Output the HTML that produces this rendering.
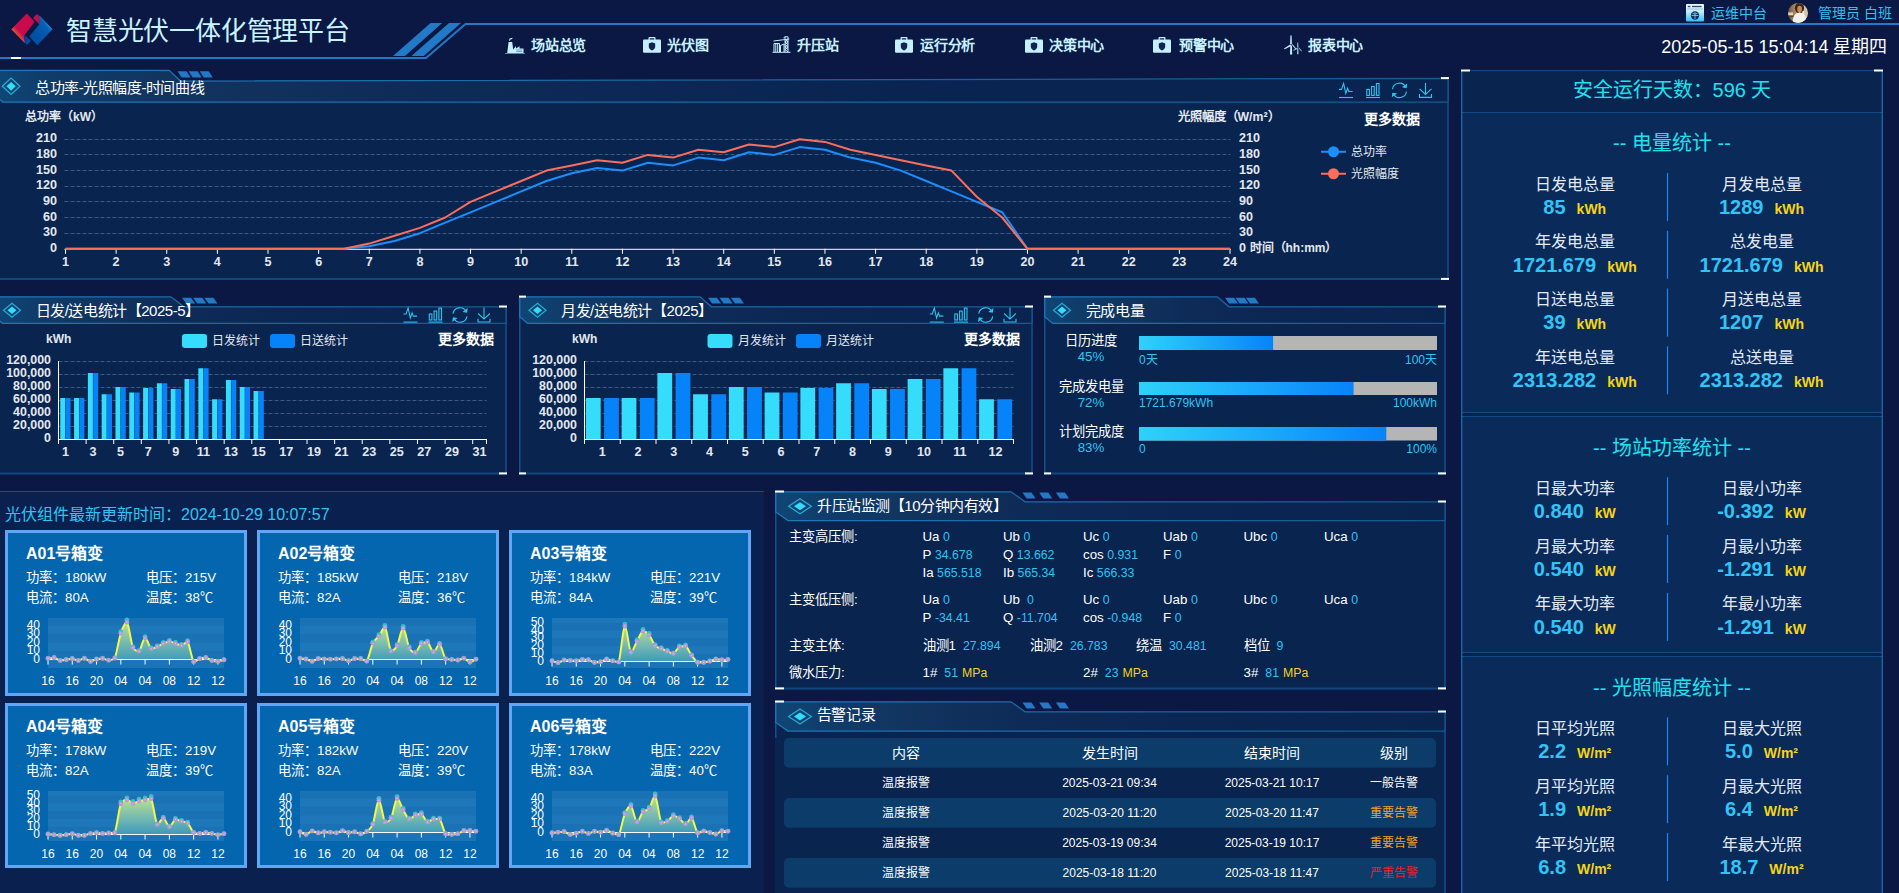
<!DOCTYPE html>
<html lang="zh-CN"><head><meta charset="utf-8"><title>智慧光伏一体化管理平台</title>
<style>
html,body{margin:0;padding:0;}
body{width:1899px;height:893px;overflow:hidden;background:#0a1843;font-family:"Liberation Sans",sans-serif;position:relative;}
#g{position:absolute;left:0;top:0;}
.t{position:absolute;white-space:nowrap;margin:0;font-weight:normal;}
</style></head><body>
<svg id="g" width="1899" height="893" viewBox="0 0 1899 893">
<polyline points="0,58 426,58 465.5,24 1899,24" fill="none" stroke="#1f78c8" stroke-width="2"/>
<polygon points="393,56 405,56 442.2,23 430.6,23" fill="#2279c5"/>
<polygon points="411.4,56 423.7,56 461,23 449,23" fill="#2279c5"/>
<rect x="11" y="57" width="10" height="2" fill="#fff"/>
<defs>
<linearGradient id="lgR" x1="0.75" y1="0.2" x2="0.2" y2="0.8"><stop offset="0" stop-color="#c90b4e"/><stop offset="0.7" stop-color="#c90b4e"/><stop offset="0.86" stop-color="#de3a3e"/><stop offset="1" stop-color="#f5852f"/></linearGradient>
<linearGradient id="lgB" x1="0.85" y1="0.15" x2="0.3" y2="0.7"><stop offset="0" stop-color="#0aa5e6"/><stop offset="0.12" stop-color="#0a8fd6"/><stop offset="0.3" stop-color="#0560b5"/><stop offset="1" stop-color="#0050a4"/></linearGradient>
<linearGradient id="lgB2" x1="0" y1="0" x2="1" y2="0.6"><stop offset="0" stop-color="#0a2f80"/><stop offset="1" stop-color="#0058b0"/></linearGradient>
<linearGradient id="lgR2" x1="0" y1="0.3" x2="1" y2="0.6"><stop offset="0" stop-color="#d40b4e"/><stop offset="1" stop-color="#9a1a50"/></linearGradient>
</defs>
<path d="M26.7,13.9 L34.1,21.8 L24.2,34.8 Q23.5,38 24.7,42.5 L11.9,29.2 Z" fill="url(#lgR)" stroke="url(#lgR)" stroke-width="1" stroke-linejoin="round"/>
<path d="M24.2,34.8 L30.9,40.8 L26.9,44.9 L24.7,42.5 Q23.5,38 24.2,34.8 Z" fill="url(#lgB2)"/>
<path d="M39.5,16.1 L52,29.2 L37.3,44.9 L29.9,36.3 L39.5,24.7 Q40.3,20 39.5,16.1 Z" fill="url(#lgB)" stroke="url(#lgB)" stroke-width="1" stroke-linejoin="round"/>
<path d="M37,13.9 L39.5,16.1 Q40.3,20 39.5,24.5 L33.1,17.9 Z" fill="url(#lgR2)"/>
<g transform="translate(505,37.5)" fill="#c4f0ff"><path d="M0,15.5 L2.2,15.5 L3.6,4.5 L7.2,4.5 L8.2,12 L11,8.5 L11,11 L14.5,8.8 L14.5,11 L18.5,11 L18.5,15.5 L20,15.5 L20,16 L0,16 Z"/><path d="M4,3 L4.6,1 L7.6,0.2 L7.2,1.6 L5,2.2 L5.2,3.4 Z"/><rect x="11.3" y="12" width="6" height="1" fill="#6a9fc0"/><rect x="11.3" y="13.6" width="6" height="1" fill="#6a9fc0"/></g>
<g transform="translate(643,37)"><path d="M5.5,3 L5.5,0.9 Q5.5,0 6.4,0 L11.6,0 Q12.5,0 12.5,0.9 L12.5,3 L11.2,3 L11.2,1.3 L6.8,1.3 L6.8,3 Z" fill="#c4f0ff"/><rect x="0" y="2.6" width="18" height="13.2" rx="1.2" fill="#c4f0ff"/><path d="M9,5.2 L12.2,6.4 L12.2,9.4 Q12.2,12 9,13.4 Q5.8,12 5.8,9.4 L5.8,6.4 Z" fill="#14244f"/></g>
<g transform="translate(772.5,36)" fill="none" stroke="#c4f0ff" stroke-width="1"><path d="M0,16.3 L18,16.3"/><path d="M1.5,16 L1.5,7.5 L7,7.5 L7,16 M3.3,8 L3.3,16 M5.2,8 L5.2,16"/><path d="M8,16 L8,9.5 L11.5,8 L11.5,16"/><path d="M12.5,16 L12.5,0.8 L15.5,0.8 L15.5,16 M12.5,3.5 L15.5,6 L12.5,8.5 L15.5,11 L12.5,13.5 L15.5,16 M15.5,3.5 L12.5,6 L15.5,8.5 L12.5,11 L15.5,13.5"/><path d="M1,5 L16.8,3 M12.5,0.8 L11,1.8"/></g>
<g transform="translate(895,37)"><path d="M5.5,3 L5.5,0.9 Q5.5,0 6.4,0 L11.6,0 Q12.5,0 12.5,0.9 L12.5,3 L11.2,3 L11.2,1.3 L6.8,1.3 L6.8,3 Z" fill="#c4f0ff"/><rect x="0" y="2.6" width="18" height="13.2" rx="1.2" fill="#c4f0ff"/><path d="M9,5.2 L12.2,6.4 L12.2,9.4 Q12.2,12 9,13.4 Q5.8,12 5.8,9.4 L5.8,6.4 Z" fill="#14244f"/></g>
<g transform="translate(1025,37)"><path d="M5.5,3 L5.5,0.9 Q5.5,0 6.4,0 L11.6,0 Q12.5,0 12.5,0.9 L12.5,3 L11.2,3 L11.2,1.3 L6.8,1.3 L6.8,3 Z" fill="#c4f0ff"/><rect x="0" y="2.6" width="18" height="13.2" rx="1.2" fill="#c4f0ff"/><path d="M9,5.2 L12.2,6.4 L12.2,9.4 Q12.2,12 9,13.4 Q5.8,12 5.8,9.4 L5.8,6.4 Z" fill="#14244f"/></g>
<g transform="translate(1153,37)"><path d="M5.5,3 L5.5,0.9 Q5.5,0 6.4,0 L11.6,0 Q12.5,0 12.5,0.9 L12.5,3 L11.2,3 L11.2,1.3 L6.8,1.3 L6.8,3 Z" fill="#c4f0ff"/><rect x="0" y="2.6" width="18" height="13.2" rx="1.2" fill="#c4f0ff"/><path d="M9,5.2 L12.2,6.4 L12.2,9.4 Q12.2,12 9,13.4 Q5.8,12 5.8,9.4 L5.8,6.4 Z" fill="#14244f"/></g>
<g transform="translate(1284,35.6)" fill="#c4f0ff"><path d="M6.4,0 L7.6,0 L7.9,8.6 L6.1,8.6 Z"/><path d="M6.2,9 L7.2,10.4 L0.6,13.6 L0,12.8 Z" /><path d="M7.6,9.2 L8.6,8.6 L12.2,13 L11.4,13.6 Z" opacity="0.85"/><path d="M6.3,10 L7.9,10 L8.2,19 L6,19 Z"/><g opacity="0.8"><path d="M13.3,7 L14.2,7 L14.4,12 L13.1,12 Z"/><path d="M13.2,12.2 L13.9,13.2 L9.6,15.2 L9.2,14.5 Z"/><path d="M14.2,12.2 L15,11.8 L18,15.3 L17.3,15.9 Z"/><path d="M13.2,13 L14.3,13 L14.6,18.6 L13,18.6 Z"/></g></g>
<defs><linearGradient id="gW" x1="0" y1="0" x2="0" y2="1"><stop offset="0" stop-color="#f2fbff"/><stop offset="0.45" stop-color="#bfeafc"/><stop offset="1" stop-color="#2fc2f5"/></linearGradient><radialGradient id="gA" cx="0.55" cy="0.6" r="0.6"><stop offset="0" stop-color="#fbf4ea"/><stop offset="0.5" stop-color="#e8d8c4"/><stop offset="1" stop-color="#7a5238"/></radialGradient></defs>
<g transform="translate(1686,4)"><rect width="18" height="17.6" rx="1" fill="url(#gW)"/><rect x="1.8" y="1.8" width="2.6" height="1.4" fill="#33507a"/><rect x="6" y="1.8" width="9.6" height="1.4" fill="#33507a"/><rect x="1" y="4.6" width="16" height="0.8" fill="#8fb5d6"/><circle cx="9" cy="11.5" r="4.2" fill="#14305e"/><path d="M5.5,11.5 L12.5,11.5 M9,8 L9,15 M6.5,9.3 Q9,11 11.5,9.3" stroke="#7fd0f5" stroke-width="0.8" fill="none"/></g>
<defs><clipPath id="av"><circle cx="1798" cy="13" r="10"/></clipPath><linearGradient id="avb" x1="0" y1="0" x2="1" y2="0"><stop offset="0" stop-color="#6f5638"/><stop offset="0.3" stop-color="#9c8260"/><stop offset="0.75" stop-color="#cdbb9f"/><stop offset="1" stop-color="#d9ccb6"/></linearGradient></defs><g clip-path="url(#av)"><rect x="1788" y="3" width="20" height="20" fill="url(#avb)"/><rect x="1788" y="12.5" width="5" height="3" fill="#f4efe6" opacity="0.8"/><rect x="1788" y="15.5" width="6" height="1.6" fill="#4a3a28" opacity="0.8"/><ellipse cx="1799.5" cy="8" rx="4.6" ry="5.4" fill="#3b2516"/><ellipse cx="1799.6" cy="9" rx="2.4" ry="3.2" fill="#c48a5c"/><rect x="1798.6" y="11.5" width="2" height="2" fill="#d9a17c"/><path d="M1792.5,24 Q1792.5,14.5 1797,13 L1803,13 Q1806.5,15 1806,24 Z" fill="#f5f0e6"/><rect x="1802.5" y="11" width="1.6" height="2.5" fill="#f8f6f0"/></g>
<defs><linearGradient id="tb1" gradientUnits="userSpaceOnUse" x1="0" y1="0" x2="900" y2="0"><stop offset="0" stop-color="#0f4676"/><stop offset="0.05" stop-color="#103c6a"/><stop offset="0.18" stop-color="#123560"/><stop offset="0.3" stop-color="#11305b"/><stop offset="0.5" stop-color="#0e2a57"/><stop offset="1" stop-color="#0a2452"/></linearGradient><linearGradient id="tb" x1="0" y1="0" x2="1" y2="0"><stop offset="0" stop-color="#0f4676"/><stop offset="0.08" stop-color="#103c6a"/><stop offset="0.22" stop-color="#11335e"/><stop offset="0.38" stop-color="#0e2a57"/><stop offset="0.6" stop-color="#0b2653"/><stop offset="1" stop-color="#0a2450"/></linearGradient><linearGradient id="tbs" x1="0" y1="0" x2="1" y2="0"><stop offset="0" stop-color="#1c78bc"/><stop offset="0.3" stop-color="#196dac"/><stop offset="1" stop-color="#145890"/></linearGradient></defs>
<rect x="-6" y="80.3" width="1455" height="199.7" fill="#09244f"/>
<path d="M-5.25,69.6 L-5.25,280 " stroke="#12528c" stroke-width="1.5" fill="none"/>
<path d="M1448,80.3 L1448,280" stroke="#10437a" stroke-width="2" fill="none"/>
<path d="M-6,279 L1449,279" stroke="#104780" stroke-width="2" fill="none"/>
<polygon points="-5.25,70.35 169.2,70.35 180.5,81.05 1448,78.35 1448,102 2.6999999999999993,102 -5.25,95.3" fill="url(#tb1)" stroke="url(#tbs)" stroke-width="1.25"/>
<polygon points="177.5,71.2 186.5,71.2 190.6,77.5 181.6,77.5" fill="#2279c5"/>
<polygon points="188.6,71.2 197.6,71.2 201.7,77.5 192.7,77.5" fill="#2279c5"/>
<polygon points="199.7,71.2 208.7,71.2 212.8,77.5 203.8,77.5" fill="#2279c5"/>
<polygon points="2.25,86.3 11.1,78.119 19.95,86.3 11.1,94.481" fill="none" stroke="#22b0d4" stroke-width="1.2"/>
<polygon points="6.4094999999999995,86.3 11.1,81.96406999999999 15.7905,86.3 11.1,90.63593" fill="#34dcf9"/>
<rect x="1441" y="77.1" width="8" height="2" fill="#fff"/>
<rect x="1441" y="277.9" width="8" height="2" fill="#fff"/>
<g transform="translate(1339,82.9)" fill="none" stroke="#2cc5ee" stroke-width="1.1"><path d="M0,14.6 L14,14.6"/><path d="M0,6.5 L2.5,6.5 L4.6,0.5 L6.8,10.5 L8.6,5.4 L9.8,8.6 L13.6,8.6"/></g>
<g transform="translate(1366,82.9)" fill="none" stroke="#2cc5ee" stroke-width="1.1"><path d="M0,14.6 L14,14.6"/><rect x="0.8" y="6.5" width="2.6" height="6"/><rect x="5.6" y="3.6" width="2.6" height="8.9"/><rect x="10.4" y="0.6" width="2.6" height="11.9"/></g>
<g transform="translate(1391.5,82.9)" fill="none" stroke="#2cc5ee" stroke-width="1.1"><path d="M1,6.2 A7,7 0 0 1 14.2,4.2"/><path d="M15,8.8 A7,7 0 0 1 1.8,10.8"/><path d="M15,1.8 L14.6,4.6 L11.8,4.1 Z" fill="#2cc5ee"/><path d="M1,13.2 L1.4,10.4 L4.2,10.9 Z" fill="#2cc5ee"/></g>
<g transform="translate(1419.0,82.9)" fill="none" stroke="#2cc5ee" stroke-width="1.1"><path d="M6.5,0 L6.5,11.4 M0.6,6 L6.5,11.6 L12.4,6"/><path d="M0.5,11.2 L0.5,14.5 L12.5,14.5 L12.5,11.2"/></g>
<path d="M64.5,233.50 L1230.5,233.50" stroke="#3a5c84" stroke-width="1" stroke-dasharray="4,2"/>
<path d="M64.5,217.50 L1230.5,217.50" stroke="#3a5c84" stroke-width="1" stroke-dasharray="4,2"/>
<path d="M64.5,201.50 L1230.5,201.50" stroke="#3a5c84" stroke-width="1" stroke-dasharray="4,2"/>
<path d="M64.5,186.50 L1230.5,186.50" stroke="#3a5c84" stroke-width="1" stroke-dasharray="4,2"/>
<path d="M64.5,170.50 L1230.5,170.50" stroke="#3a5c84" stroke-width="1" stroke-dasharray="4,2"/>
<path d="M64.5,154.50 L1230.5,154.50" stroke="#3a5c84" stroke-width="1" stroke-dasharray="4,2"/>
<path d="M64.5,139.50 L1230.5,139.50" stroke="#3a5c84" stroke-width="1" stroke-dasharray="4,2"/>
<path d="M64.5,249.3 L1230.5,249.3" stroke="#fff" stroke-width="1"/>
<path d="M65.50,248.8 L65.50,253.8" stroke="#fff" stroke-width="1"/>
<path d="M116.13,248.8 L116.13,253.8" stroke="#fff" stroke-width="1"/>
<path d="M166.76,248.8 L166.76,253.8" stroke="#fff" stroke-width="1"/>
<path d="M217.39,248.8 L217.39,253.8" stroke="#fff" stroke-width="1"/>
<path d="M268.02,248.8 L268.02,253.8" stroke="#fff" stroke-width="1"/>
<path d="M318.65,248.8 L318.65,253.8" stroke="#fff" stroke-width="1"/>
<path d="M369.28,248.8 L369.28,253.8" stroke="#fff" stroke-width="1"/>
<path d="M419.91,248.8 L419.91,253.8" stroke="#fff" stroke-width="1"/>
<path d="M470.54,248.8 L470.54,253.8" stroke="#fff" stroke-width="1"/>
<path d="M521.17,248.8 L521.17,253.8" stroke="#fff" stroke-width="1"/>
<path d="M571.80,248.8 L571.80,253.8" stroke="#fff" stroke-width="1"/>
<path d="M622.43,248.8 L622.43,253.8" stroke="#fff" stroke-width="1"/>
<path d="M673.07,248.8 L673.07,253.8" stroke="#fff" stroke-width="1"/>
<path d="M723.70,248.8 L723.70,253.8" stroke="#fff" stroke-width="1"/>
<path d="M774.33,248.8 L774.33,253.8" stroke="#fff" stroke-width="1"/>
<path d="M824.96,248.8 L824.96,253.8" stroke="#fff" stroke-width="1"/>
<path d="M875.59,248.8 L875.59,253.8" stroke="#fff" stroke-width="1"/>
<path d="M926.22,248.8 L926.22,253.8" stroke="#fff" stroke-width="1"/>
<path d="M976.85,248.8 L976.85,253.8" stroke="#fff" stroke-width="1"/>
<path d="M1027.48,248.8 L1027.48,253.8" stroke="#fff" stroke-width="1"/>
<path d="M1078.11,248.8 L1078.11,253.8" stroke="#fff" stroke-width="1"/>
<path d="M1128.74,248.8 L1128.74,253.8" stroke="#fff" stroke-width="1"/>
<path d="M1179.37,248.8 L1179.37,253.8" stroke="#fff" stroke-width="1"/>
<path d="M1230.00,248.8 L1230.00,253.8" stroke="#fff" stroke-width="1"/>
<polyline points="65.5,248.8 344.0,248.8 369.3,246.2 394.6,241.0 419.9,233.2 445.2,222.7 470.5,212.3 495.9,201.9 521.2,191.4 546.5,181.0 571.8,173.2 597.1,168.0 622.4,170.6 647.8,162.8 673.1,165.4 698.4,157.6 723.7,160.2 749.0,152.3 774.3,154.9 799.6,147.1 825.0,149.7 850.3,157.6 875.6,162.8 900.9,170.6 926.2,181.0 951.5,191.4 976.8,201.9 1002.2,212.3 1027.5,248.8 1230.0,248.8" fill="none" stroke="#1b8ffb" stroke-width="2" stroke-linejoin="round"/>
<polyline points="65.5,248.8 344.0,248.8 369.3,243.6 394.6,235.8 419.9,227.9 445.2,217.5 470.5,201.9 495.9,191.4 521.2,181.0 546.5,170.6 571.8,165.4 597.1,160.2 622.4,162.8 647.8,154.9 673.1,157.6 698.4,149.7 723.7,152.3 749.0,144.5 774.3,147.1 799.6,139.3 825.0,141.9 850.3,149.7 875.6,154.9 900.9,160.2 926.2,165.4 951.5,170.6 976.8,196.7 1002.2,217.5 1027.5,248.8 1230.0,248.8" fill="none" stroke="#fb6e5c" stroke-width="2" stroke-linejoin="round"/>
<path d="M1321,151.75 L1346,151.75" stroke="#1b8ffb" stroke-width="2"/><circle cx="1333.5" cy="151.75" r="5.5" fill="#1b8ffb"/>
<path d="M1321,173.75 L1346,173.75" stroke="#fb6e5c" stroke-width="2"/><circle cx="1333.5" cy="173.75" r="5.5" fill="#fb6e5c"/>
<rect x="-6" y="306" width="513" height="168.5" fill="#09244f"/>
<path d="M-5.25,296.1 L-5.25,474.5 " stroke="#12528c" stroke-width="1.5" fill="none"/>
<path d="M506,306 L506,474.5" stroke="#10437a" stroke-width="2" fill="none"/>
<path d="M-6,473.5 L507,473.5" stroke="#104780" stroke-width="2" fill="none"/>
<polygon points="-5.25,296.85 171,296.85 184,306.75 506,306.75 506,323.4 2.6999999999999993,323.4 -5.25,316.7" fill="url(#tb)" stroke="url(#tbs)" stroke-width="1.25"/>
<polygon points="182.0,297.7 191.0,297.7 195.1,303.4 186.1,303.4" fill="#2279c5"/>
<polygon points="193.2,297.7 202.2,297.7 206.3,303.4 197.3,303.4" fill="#2279c5"/>
<polygon points="204.4,297.7 213.4,297.7 217.5,303.4 208.5,303.4" fill="#2279c5"/>
<polygon points="3.5,310.25 12,303.35675000000003 20.5,310.25 12,317.14324999999997" fill="none" stroke="#22b0d4" stroke-width="1.2"/>
<polygon points="7.495,310.25 12,306.5965775 16.505,310.25 12,313.9034225" fill="#34dcf9"/>
<rect x="499" y="305.5" width="8" height="2" fill="#fff"/>
<rect x="499" y="472.4" width="8" height="2" fill="#fff"/>
<g transform="translate(403.5,307.5)" fill="none" stroke="#2cc5ee" stroke-width="1.1"><path d="M0,14.6 L14,14.6"/><path d="M0,6.5 L2.5,6.5 L4.6,0.5 L6.8,10.5 L8.6,5.4 L9.8,8.6 L13.6,8.6"/></g>
<g transform="translate(428.5,307.5)" fill="none" stroke="#2cc5ee" stroke-width="1.1"><path d="M0,14.6 L14,14.6"/><rect x="0.8" y="6.5" width="2.6" height="6"/><rect x="5.6" y="3.6" width="2.6" height="8.9"/><rect x="10.4" y="0.6" width="2.6" height="11.9"/></g>
<g transform="translate(452,307.5)" fill="none" stroke="#2cc5ee" stroke-width="1.1"><path d="M1,6.2 A7,7 0 0 1 14.2,4.2"/><path d="M15,8.8 A7,7 0 0 1 1.8,10.8"/><path d="M15,1.8 L14.6,4.6 L11.8,4.1 Z" fill="#2cc5ee"/><path d="M1,13.2 L1.4,10.4 L4.2,10.9 Z" fill="#2cc5ee"/></g>
<g transform="translate(477.5,307.5)" fill="none" stroke="#2cc5ee" stroke-width="1.1"><path d="M6.5,0 L6.5,11.4 M0.6,6 L6.5,11.6 L12.4,6"/><path d="M0.5,11.2 L0.5,14.5 L12.5,14.5 L12.5,11.2"/></g>
<rect x="182" y="334" width="25" height="14" rx="3" fill="#36dcfb"/><rect x="270" y="334" width="25" height="14" rx="3" fill="#0783fa"/>
<path d="M58.5,426.50 L486.5,426.50" stroke="#3a5c84" stroke-width="1" stroke-dasharray="4,2"/>
<path d="M58.5,413.50 L486.5,413.50" stroke="#3a5c84" stroke-width="1" stroke-dasharray="4,2"/>
<path d="M58.5,400.50 L486.5,400.50" stroke="#3a5c84" stroke-width="1" stroke-dasharray="4,2"/>
<path d="M58.5,387.50 L486.5,387.50" stroke="#3a5c84" stroke-width="1" stroke-dasharray="4,2"/>
<path d="M58.5,374.50 L486.5,374.50" stroke="#3a5c84" stroke-width="1" stroke-dasharray="4,2"/>
<path d="M58.5,361.50 L486.5,361.50" stroke="#3a5c84" stroke-width="1" stroke-dasharray="4,2"/>
<rect x="60.25" y="398.00" width="5" height="41.50" fill="#36dcfb"/><rect x="65.55" y="398.00" width="5" height="41.50" fill="#0783fa"/>
<rect x="74.06" y="398.00" width="5" height="41.50" fill="#36dcfb"/><rect x="79.36" y="398.00" width="5" height="41.50" fill="#0783fa"/>
<rect x="87.87" y="373.00" width="5" height="66.50" fill="#36dcfb"/><rect x="93.17" y="373.00" width="5" height="66.50" fill="#0783fa"/>
<rect x="101.67" y="394.25" width="5" height="45.25" fill="#36dcfb"/><rect x="106.97" y="394.25" width="5" height="45.25" fill="#0783fa"/>
<rect x="115.48" y="387.00" width="5" height="52.50" fill="#36dcfb"/><rect x="120.78" y="387.00" width="5" height="52.50" fill="#0783fa"/>
<rect x="129.29" y="392.50" width="5" height="47.00" fill="#36dcfb"/><rect x="134.59" y="392.50" width="5" height="47.00" fill="#0783fa"/>
<rect x="143.09" y="388.00" width="5" height="51.50" fill="#36dcfb"/><rect x="148.39" y="388.00" width="5" height="51.50" fill="#0783fa"/>
<rect x="156.90" y="383.25" width="5" height="56.25" fill="#36dcfb"/><rect x="162.20" y="383.25" width="5" height="56.25" fill="#0783fa"/>
<rect x="170.70" y="389.00" width="5" height="50.50" fill="#36dcfb"/><rect x="176.00" y="389.00" width="5" height="50.50" fill="#0783fa"/>
<rect x="184.51" y="379.00" width="5" height="60.50" fill="#36dcfb"/><rect x="189.81" y="379.00" width="5" height="60.50" fill="#0783fa"/>
<rect x="198.32" y="368.25" width="5" height="71.25" fill="#36dcfb"/><rect x="203.62" y="368.25" width="5" height="71.25" fill="#0783fa"/>
<rect x="212.12" y="399.25" width="5" height="40.25" fill="#36dcfb"/><rect x="217.42" y="399.25" width="5" height="40.25" fill="#0783fa"/>
<rect x="225.93" y="380.00" width="5" height="59.50" fill="#36dcfb"/><rect x="231.23" y="380.00" width="5" height="59.50" fill="#0783fa"/>
<rect x="239.74" y="387.00" width="5" height="52.50" fill="#36dcfb"/><rect x="245.04" y="387.00" width="5" height="52.50" fill="#0783fa"/>
<rect x="253.54" y="391.00" width="5" height="48.50" fill="#36dcfb"/><rect x="258.84" y="391.00" width="5" height="48.50" fill="#0783fa"/>
<path d="M58.5,361.0 L58.5,439.5" stroke="#fff" stroke-width="1"/>
<path d="M58.0,439.5 L486.5,439.5" stroke="#fff" stroke-width="1"/>
<path d="M58.50,439.0 L58.50,444.0" stroke="#fff" stroke-width="1"/>
<path d="M86.11,439.0 L86.11,444.0" stroke="#fff" stroke-width="1"/>
<path d="M113.73,439.0 L113.73,444.0" stroke="#fff" stroke-width="1"/>
<path d="M141.34,439.0 L141.34,444.0" stroke="#fff" stroke-width="1"/>
<path d="M168.95,439.0 L168.95,444.0" stroke="#fff" stroke-width="1"/>
<path d="M196.56,439.0 L196.56,444.0" stroke="#fff" stroke-width="1"/>
<path d="M224.18,439.0 L224.18,444.0" stroke="#fff" stroke-width="1"/>
<path d="M251.79,439.0 L251.79,444.0" stroke="#fff" stroke-width="1"/>
<path d="M279.40,439.0 L279.40,444.0" stroke="#fff" stroke-width="1"/>
<path d="M307.02,439.0 L307.02,444.0" stroke="#fff" stroke-width="1"/>
<path d="M334.63,439.0 L334.63,444.0" stroke="#fff" stroke-width="1"/>
<path d="M362.24,439.0 L362.24,444.0" stroke="#fff" stroke-width="1"/>
<path d="M389.85,439.0 L389.85,444.0" stroke="#fff" stroke-width="1"/>
<path d="M417.47,439.0 L417.47,444.0" stroke="#fff" stroke-width="1"/>
<path d="M445.08,439.0 L445.08,444.0" stroke="#fff" stroke-width="1"/>
<path d="M472.69,439.0 L472.69,444.0" stroke="#fff" stroke-width="1"/>
<path d="M486.50,439.0 L486.50,444.0" stroke="#fff" stroke-width="1"/>
<rect x="519" y="306" width="514" height="168.5" fill="#09244f"/>
<path d="M519.75,296.1 L519.75,474.5 " stroke="#12528c" stroke-width="1.5" fill="none"/>
<path d="M1032,306 L1032,474.5" stroke="#10437a" stroke-width="2" fill="none"/>
<path d="M519,473.5 L1033,473.5" stroke="#104780" stroke-width="2" fill="none"/>
<polygon points="519.75,296.85 700,296.85 711.5,306.75 1032,306.75 1032,323.4 527.7,323.4 519.75,316.7" fill="url(#tb)" stroke="url(#tbs)" stroke-width="1.25"/>
<polygon points="708.0,297.7 717.0,297.7 721.1,303.4 712.1,303.4" fill="#2279c5"/>
<polygon points="719.5,297.7 728.5,297.7 732.6,303.4 723.6,303.4" fill="#2279c5"/>
<polygon points="730.9,297.7 739.9,297.7 744.0,303.4 735.0,303.4" fill="#2279c5"/>
<polygon points="529.0,310.25 537.5,303.35675000000003 546.0,310.25 537.5,317.14324999999997" fill="none" stroke="#22b0d4" stroke-width="1.2"/>
<polygon points="532.995,310.25 537.5,306.5965775 542.005,310.25 537.5,313.9034225" fill="#34dcf9"/>
<rect x="519" y="295.6" width="7" height="2" fill="#fff"/>
<rect x="1025" y="305.5" width="8" height="2" fill="#fff"/>
<rect x="519" y="472.4" width="7" height="2" fill="#fff"/>
<rect x="1025" y="472.4" width="8" height="2" fill="#fff"/>
<g transform="translate(929.75,307.5)" fill="none" stroke="#2cc5ee" stroke-width="1.1"><path d="M0,14.6 L14,14.6"/><path d="M0,6.5 L2.5,6.5 L4.6,0.5 L6.8,10.5 L8.6,5.4 L9.8,8.6 L13.6,8.6"/></g>
<g transform="translate(954,307.5)" fill="none" stroke="#2cc5ee" stroke-width="1.1"><path d="M0,14.6 L14,14.6"/><rect x="0.8" y="6.5" width="2.6" height="6"/><rect x="5.6" y="3.6" width="2.6" height="8.9"/><rect x="10.4" y="0.6" width="2.6" height="11.9"/></g>
<g transform="translate(977.75,307.5)" fill="none" stroke="#2cc5ee" stroke-width="1.1"><path d="M1,6.2 A7,7 0 0 1 14.2,4.2"/><path d="M15,8.8 A7,7 0 0 1 1.8,10.8"/><path d="M15,1.8 L14.6,4.6 L11.8,4.1 Z" fill="#2cc5ee"/><path d="M1,13.2 L1.4,10.4 L4.2,10.9 Z" fill="#2cc5ee"/></g>
<g transform="translate(1003.5,307.5)" fill="none" stroke="#2cc5ee" stroke-width="1.1"><path d="M6.5,0 L6.5,11.4 M0.6,6 L6.5,11.6 L12.4,6"/><path d="M0.5,11.2 L0.5,14.5 L12.5,14.5 L12.5,11.2"/></g>
<rect x="707.5" y="334" width="25" height="14" rx="3" fill="#36dcfb"/><rect x="796" y="334" width="25" height="14" rx="3" fill="#0783fa"/>
<path d="M584.5,426.50 L1013.5,426.50" stroke="#3a5c84" stroke-width="1" stroke-dasharray="4,2"/>
<path d="M584.5,413.50 L1013.5,413.50" stroke="#3a5c84" stroke-width="1" stroke-dasharray="4,2"/>
<path d="M584.5,400.50 L1013.5,400.50" stroke="#3a5c84" stroke-width="1" stroke-dasharray="4,2"/>
<path d="M584.5,387.50 L1013.5,387.50" stroke="#3a5c84" stroke-width="1" stroke-dasharray="4,2"/>
<path d="M584.5,374.50 L1013.5,374.50" stroke="#3a5c84" stroke-width="1" stroke-dasharray="4,2"/>
<path d="M584.5,361.50 L1013.5,361.50" stroke="#3a5c84" stroke-width="1" stroke-dasharray="4,2"/>
<rect x="585.88" y="398.00" width="14.8" height="41.50" fill="#36dcfb"/><rect x="604.07" y="398.00" width="14.8" height="41.50" fill="#0783fa"/>
<rect x="621.62" y="398.00" width="14.8" height="41.50" fill="#36dcfb"/><rect x="639.82" y="398.00" width="14.8" height="41.50" fill="#0783fa"/>
<rect x="657.38" y="373.00" width="14.8" height="66.50" fill="#36dcfb"/><rect x="675.57" y="373.00" width="14.8" height="66.50" fill="#0783fa"/>
<rect x="693.12" y="394.25" width="14.8" height="45.25" fill="#36dcfb"/><rect x="711.32" y="394.25" width="14.8" height="45.25" fill="#0783fa"/>
<rect x="728.88" y="387.00" width="14.8" height="52.50" fill="#36dcfb"/><rect x="747.07" y="387.00" width="14.8" height="52.50" fill="#0783fa"/>
<rect x="764.62" y="392.50" width="14.8" height="47.00" fill="#36dcfb"/><rect x="782.82" y="392.50" width="14.8" height="47.00" fill="#0783fa"/>
<rect x="800.38" y="388.00" width="14.8" height="51.50" fill="#36dcfb"/><rect x="818.57" y="388.00" width="14.8" height="51.50" fill="#0783fa"/>
<rect x="836.12" y="383.25" width="14.8" height="56.25" fill="#36dcfb"/><rect x="854.32" y="383.25" width="14.8" height="56.25" fill="#0783fa"/>
<rect x="871.88" y="389.00" width="14.8" height="50.50" fill="#36dcfb"/><rect x="890.07" y="389.00" width="14.8" height="50.50" fill="#0783fa"/>
<rect x="907.62" y="379.00" width="14.8" height="60.50" fill="#36dcfb"/><rect x="925.82" y="379.00" width="14.8" height="60.50" fill="#0783fa"/>
<rect x="943.38" y="368.25" width="14.8" height="71.25" fill="#36dcfb"/><rect x="961.57" y="368.25" width="14.8" height="71.25" fill="#0783fa"/>
<rect x="979.12" y="399.25" width="14.8" height="40.25" fill="#36dcfb"/><rect x="997.32" y="399.25" width="14.8" height="40.25" fill="#0783fa"/>
<path d="M584.5,361.0 L584.5,439.5" stroke="#fff" stroke-width="1"/>
<path d="M584.0,439.5 L1013.5,439.5" stroke="#fff" stroke-width="1"/>
<path d="M584.50,439.0 L584.50,444.0" stroke="#fff" stroke-width="1"/>
<path d="M620.25,439.0 L620.25,444.0" stroke="#fff" stroke-width="1"/>
<path d="M656.00,439.0 L656.00,444.0" stroke="#fff" stroke-width="1"/>
<path d="M691.75,439.0 L691.75,444.0" stroke="#fff" stroke-width="1"/>
<path d="M727.50,439.0 L727.50,444.0" stroke="#fff" stroke-width="1"/>
<path d="M763.25,439.0 L763.25,444.0" stroke="#fff" stroke-width="1"/>
<path d="M799.00,439.0 L799.00,444.0" stroke="#fff" stroke-width="1"/>
<path d="M834.75,439.0 L834.75,444.0" stroke="#fff" stroke-width="1"/>
<path d="M870.50,439.0 L870.50,444.0" stroke="#fff" stroke-width="1"/>
<path d="M906.25,439.0 L906.25,444.0" stroke="#fff" stroke-width="1"/>
<path d="M942.00,439.0 L942.00,444.0" stroke="#fff" stroke-width="1"/>
<path d="M977.75,439.0 L977.75,444.0" stroke="#fff" stroke-width="1"/>
<path d="M1013.50,439.0 L1013.50,444.0" stroke="#fff" stroke-width="1"/>
<path d="M1013.50,439.0 L1013.50,444.0" stroke="#fff" stroke-width="1"/>
<rect x="1044" y="306" width="402" height="168.5" fill="#09244f"/>
<path d="M1044.75,296.1 L1044.75,474.5 " stroke="#12528c" stroke-width="1.5" fill="none"/>
<path d="M1445,306 L1445,474.5" stroke="#10437a" stroke-width="2" fill="none"/>
<path d="M1044,473.5 L1446,473.5" stroke="#104780" stroke-width="2" fill="none"/>
<polygon points="1044.75,296.85 1217.5,296.85 1229,306.75 1445,306.75 1445,323.4 1052.7,323.4 1044.75,316.7" fill="url(#tb)" stroke="url(#tbs)" stroke-width="1.25"/>
<polygon points="1225.0,297.7 1234.0,297.7 1238.1,303.4 1229.1,303.4" fill="#2279c5"/>
<polygon points="1235.5,297.7 1244.5,297.7 1248.5,303.4 1239.5,303.4" fill="#2279c5"/>
<polygon points="1245.9,297.7 1254.9,297.7 1259.0,303.4 1250.0,303.4" fill="#2279c5"/>
<polygon points="1053.5,310.25 1062,303.35675000000003 1070.5,310.25 1062,317.14324999999997" fill="none" stroke="#22b0d4" stroke-width="1.2"/>
<polygon points="1057.495,310.25 1062,306.5965775 1066.505,310.25 1062,313.9034225" fill="#34dcf9"/>
<rect x="1044" y="295.6" width="7" height="2" fill="#fff"/>
<rect x="1438" y="305.5" width="8" height="2" fill="#fff"/>
<rect x="1044" y="472.4" width="7" height="2" fill="#fff"/>
<rect x="1438" y="472.4" width="8" height="2" fill="#fff"/>
<defs><linearGradient id="pg" x1="0" y1="0" x2="1" y2="0"><stop offset="0" stop-color="#2fd2fa"/><stop offset="1" stop-color="#0783fa"/></linearGradient></defs>
<rect x="1139" y="336" width="298" height="14" fill="#b5b5b5"/><rect x="1139" y="336" width="134.1" height="14" fill="url(#pg)"/>
<rect x="1139" y="382" width="298" height="13" fill="#b5b5b5"/><rect x="1139" y="382" width="214.6" height="13" fill="url(#pg)"/>
<rect x="1139" y="427" width="298" height="13.5" fill="#b5b5b5"/><rect x="1139" y="427" width="247.3" height="13.5" fill="url(#pg)"/>
<rect x="0" y="491" width="763.8" height="402" fill="#0a2150"/>
<path d="M0,491.5 L763.8,491.5" stroke="#12508f" stroke-width="1.2"/>
<defs><linearGradient id="ar" x1="0" y1="0" x2="0" y2="1"><stop offset="0" stop-color="#c4e890"/><stop offset="0.45" stop-color="#86c4ad"/><stop offset="1" stop-color="#3c9bbd"/></linearGradient></defs>
<rect x="6.5" y="531.5" width="239" height="163" fill="#0466ae" stroke="#5fa6f7" stroke-width="3"/>
<rect x="48" y="618" width="176" height="50" fill="#1a72b4"/>
<rect x="48" y="642.54" width="176" height="8.50" fill="#2079b9" opacity="0.75"/>
<rect x="48" y="625.54" width="176" height="8.50" fill="#2079b9" opacity="0.75"/>
<rect x="48" y="659.54" width="176" height="8.46" fill="#1c76b7" opacity="0.6"/>
<path d="M48.00,658.41 C49.06,658.28 51.94,657.66 54.07,657.66 C56.19,658.04 58.01,660.19 60.14,660.53 C62.26,660.53 64.08,659.99 66.21,659.66 C68.33,659.33 70.15,658.66 72.28,658.66 C74.40,658.82 76.22,660.53 78.34,660.53 C80.47,660.49 82.29,658.41 84.41,658.41 C86.54,658.57 88.36,661.28 90.48,661.41 C92.61,661.41 94.43,659.69 96.55,659.16 C98.68,658.64 100.50,658.41 102.62,658.41 C104.74,658.61 106.57,660.29 108.69,660.29 C110.81,660.24 112.63,660.29 114.76,658.16 C116.88,653.42 118.70,639.49 120.83,633.20 C122.95,626.91 124.77,622.22 126.90,622.22 C129.02,624.76 130.84,642.61 132.97,647.68 C135.09,651.17 136.91,651.17 139.03,651.17 C141.16,649.49 142.98,638.51 145.10,638.07 C147.23,638.07 149.05,647.15 151.17,648.68 C153.30,648.68 155.12,647.72 157.24,646.81 C159.37,645.89 161.19,644.35 163.31,643.44 C165.43,642.52 167.26,641.57 169.38,641.57 C171.50,641.57 173.32,642.78 175.45,643.44 C177.57,644.09 179.39,645.31 181.52,645.31 C183.64,645.03 185.46,641.82 187.59,641.82 C189.71,644.70 191.53,658.83 193.66,661.78 C195.78,661.78 197.60,659.38 199.72,658.66 C201.85,657.94 203.67,657.66 205.79,657.66 C207.92,657.99 209.74,659.88 211.86,660.53 C213.99,661.19 215.81,661.41 217.93,661.41 C220.06,661.30 222.94,660.17 224.00,659.91 L224.00,659.54 L48.00,659.54 Z" fill="url(#ar)" opacity="0.93"/>
<path d="M48,659.54 L224,659.54" stroke="#fff" stroke-width="1"/>
<path d="M48.00,659.54 L48.00,664.54" stroke="#fff" stroke-width="1"/>
<path d="M72.28,659.54 L72.28,664.54" stroke="#fff" stroke-width="1"/>
<path d="M96.55,659.54 L96.55,664.54" stroke="#fff" stroke-width="1"/>
<path d="M120.83,659.54 L120.83,664.54" stroke="#fff" stroke-width="1"/>
<path d="M145.10,659.54 L145.10,664.54" stroke="#fff" stroke-width="1"/>
<path d="M169.38,659.54 L169.38,664.54" stroke="#fff" stroke-width="1"/>
<path d="M193.66,659.54 L193.66,664.54" stroke="#fff" stroke-width="1"/>
<path d="M217.93,659.54 L217.93,664.54" stroke="#fff" stroke-width="1"/>
<path d="M48.00,658.41 C49.06,658.28 51.94,657.66 54.07,657.66 C56.19,658.04 58.01,660.19 60.14,660.53 C62.26,660.53 64.08,659.99 66.21,659.66 C68.33,659.33 70.15,658.66 72.28,658.66 C74.40,658.82 76.22,660.53 78.34,660.53 C80.47,660.49 82.29,658.41 84.41,658.41 C86.54,658.57 88.36,661.28 90.48,661.41 C92.61,661.41 94.43,659.69 96.55,659.16 C98.68,658.64 100.50,658.41 102.62,658.41 C104.74,658.61 106.57,660.29 108.69,660.29 C110.81,660.24 112.63,660.29 114.76,658.16 C116.88,653.42 118.70,639.49 120.83,633.20 C122.95,626.91 124.77,622.22 126.90,622.22 C129.02,624.76 130.84,642.61 132.97,647.68 C135.09,651.17 136.91,651.17 139.03,651.17 C141.16,649.49 142.98,638.51 145.10,638.07 C147.23,638.07 149.05,647.15 151.17,648.68 C153.30,648.68 155.12,647.72 157.24,646.81 C159.37,645.89 161.19,644.35 163.31,643.44 C165.43,642.52 167.26,641.57 169.38,641.57 C171.50,641.57 173.32,642.78 175.45,643.44 C177.57,644.09 179.39,645.31 181.52,645.31 C183.64,645.03 185.46,641.82 187.59,641.82 C189.71,644.70 191.53,658.83 193.66,661.78 C195.78,661.78 197.60,659.38 199.72,658.66 C201.85,657.94 203.67,657.66 205.79,657.66 C207.92,657.99 209.74,659.88 211.86,660.53 C213.99,661.19 215.81,661.41 217.93,661.41 C220.06,661.30 222.94,660.17 224.00,659.91" fill="none" stroke="#f4f64c" stroke-width="2" stroke-linejoin="round"/>
<circle cx="48.00" cy="658.20" r="2.4" fill="#2fc2c8"/><circle cx="54.07" cy="657.41" r="2.4" fill="#2fc2c8"/><circle cx="60.14" cy="660.38" r="2.4" fill="#2fc2c8"/><circle cx="66.21" cy="659.51" r="2.4" fill="#2fc2c8"/><circle cx="72.28" cy="658.46" r="2.4" fill="#2fc2c8"/><circle cx="78.34" cy="660.38" r="2.4" fill="#2fc2c8"/><circle cx="84.41" cy="658.20" r="2.4" fill="#2fc2c8"/><circle cx="90.48" cy="661.26" r="2.4" fill="#2fc2c8"/><circle cx="96.55" cy="658.99" r="2.4" fill="#2fc2c8"/><circle cx="102.62" cy="658.20" r="2.4" fill="#2fc2c8"/><circle cx="108.69" cy="660.14" r="2.4" fill="#2fc2c8"/><circle cx="114.76" cy="657.94" r="2.4" fill="#2fc2c8"/><circle cx="120.83" cy="631.61" r="2.4" fill="#2fc2c8"/><circle cx="126.90" cy="620.02" r="2.4" fill="#2fc2c8"/><circle cx="132.97" cy="646.88" r="2.4" fill="#2fc2c8"/><circle cx="139.03" cy="650.57" r="2.4" fill="#2fc2c8"/><circle cx="145.10" cy="636.74" r="2.4" fill="#2fc2c8"/><circle cx="151.17" cy="647.93" r="2.4" fill="#2fc2c8"/><circle cx="157.24" cy="645.96" r="2.4" fill="#2fc2c8"/><circle cx="163.31" cy="642.40" r="2.4" fill="#2fc2c8"/><circle cx="169.38" cy="640.43" r="2.4" fill="#2fc2c8"/><circle cx="175.45" cy="642.40" r="2.4" fill="#2fc2c8"/><circle cx="181.52" cy="644.38" r="2.4" fill="#2fc2c8"/><circle cx="187.59" cy="640.69" r="2.4" fill="#2fc2c8"/><circle cx="193.66" cy="661.63" r="2.4" fill="#2fc2c8"/><circle cx="199.72" cy="658.46" r="2.4" fill="#2fc2c8"/><circle cx="205.79" cy="657.41" r="2.4" fill="#2fc2c8"/><circle cx="211.86" cy="660.38" r="2.4" fill="#2fc2c8"/><circle cx="217.93" cy="661.26" r="2.4" fill="#2fc2c8"/><circle cx="224.00" cy="659.76" r="2.4" fill="#2fc2c8"/><circle cx="48.00" cy="658.41" r="2.3" fill="#b897da"/><circle cx="54.07" cy="657.66" r="2.3" fill="#b897da"/><circle cx="60.14" cy="660.53" r="2.3" fill="#b897da"/><circle cx="66.21" cy="659.66" r="2.3" fill="#b897da"/><circle cx="72.28" cy="658.66" r="2.3" fill="#b897da"/><circle cx="78.34" cy="660.53" r="2.3" fill="#b897da"/><circle cx="84.41" cy="658.41" r="2.3" fill="#b897da"/><circle cx="90.48" cy="661.41" r="2.3" fill="#b897da"/><circle cx="96.55" cy="659.16" r="2.3" fill="#b897da"/><circle cx="102.62" cy="658.41" r="2.3" fill="#b897da"/><circle cx="108.69" cy="660.29" r="2.3" fill="#b897da"/><circle cx="114.76" cy="658.16" r="2.3" fill="#b897da"/><circle cx="120.83" cy="633.20" r="2.3" fill="#b897da"/><circle cx="126.90" cy="622.22" r="2.3" fill="#b897da"/><circle cx="132.97" cy="647.68" r="2.3" fill="#b897da"/><circle cx="139.03" cy="651.17" r="2.3" fill="#b897da"/><circle cx="145.10" cy="638.07" r="2.3" fill="#b897da"/><circle cx="151.17" cy="648.68" r="2.3" fill="#b897da"/><circle cx="157.24" cy="646.81" r="2.3" fill="#b897da"/><circle cx="163.31" cy="643.44" r="2.3" fill="#b897da"/><circle cx="169.38" cy="641.57" r="2.3" fill="#b897da"/><circle cx="175.45" cy="643.44" r="2.3" fill="#b897da"/><circle cx="181.52" cy="645.31" r="2.3" fill="#b897da"/><circle cx="187.59" cy="641.82" r="2.3" fill="#b897da"/><circle cx="193.66" cy="661.78" r="2.3" fill="#b897da"/><circle cx="199.72" cy="658.66" r="2.3" fill="#b897da"/><circle cx="205.79" cy="657.66" r="2.3" fill="#b897da"/><circle cx="211.86" cy="660.53" r="2.3" fill="#b897da"/><circle cx="217.93" cy="661.41" r="2.3" fill="#b897da"/><circle cx="224.00" cy="659.91" r="2.3" fill="#b897da"/><circle cx="48.00" cy="658.41" r="0.6" fill="#d9c6ee"/><circle cx="54.07" cy="657.66" r="0.6" fill="#d9c6ee"/><circle cx="60.14" cy="660.53" r="0.6" fill="#d9c6ee"/><circle cx="66.21" cy="659.66" r="0.6" fill="#d9c6ee"/><circle cx="72.28" cy="658.66" r="0.6" fill="#d9c6ee"/><circle cx="78.34" cy="660.53" r="0.6" fill="#d9c6ee"/><circle cx="84.41" cy="658.41" r="0.6" fill="#d9c6ee"/><circle cx="90.48" cy="661.41" r="0.6" fill="#d9c6ee"/><circle cx="96.55" cy="659.16" r="0.6" fill="#d9c6ee"/><circle cx="102.62" cy="658.41" r="0.6" fill="#d9c6ee"/><circle cx="108.69" cy="660.29" r="0.6" fill="#d9c6ee"/><circle cx="114.76" cy="658.16" r="0.6" fill="#d9c6ee"/><circle cx="120.83" cy="633.20" r="0.6" fill="#d9c6ee"/><circle cx="126.90" cy="622.22" r="0.6" fill="#d9c6ee"/><circle cx="132.97" cy="647.68" r="0.6" fill="#d9c6ee"/><circle cx="139.03" cy="651.17" r="0.6" fill="#d9c6ee"/><circle cx="145.10" cy="638.07" r="0.6" fill="#d9c6ee"/><circle cx="151.17" cy="648.68" r="0.6" fill="#d9c6ee"/><circle cx="157.24" cy="646.81" r="0.6" fill="#d9c6ee"/><circle cx="163.31" cy="643.44" r="0.6" fill="#d9c6ee"/><circle cx="169.38" cy="641.57" r="0.6" fill="#d9c6ee"/><circle cx="175.45" cy="643.44" r="0.6" fill="#d9c6ee"/><circle cx="181.52" cy="645.31" r="0.6" fill="#d9c6ee"/><circle cx="187.59" cy="641.82" r="0.6" fill="#d9c6ee"/><circle cx="193.66" cy="661.78" r="0.6" fill="#d9c6ee"/><circle cx="199.72" cy="658.66" r="0.6" fill="#d9c6ee"/><circle cx="205.79" cy="657.66" r="0.6" fill="#d9c6ee"/><circle cx="211.86" cy="660.53" r="0.6" fill="#d9c6ee"/><circle cx="217.93" cy="661.41" r="0.6" fill="#d9c6ee"/><circle cx="224.00" cy="659.91" r="0.6" fill="#d9c6ee"/>
<rect x="258.5" y="531.5" width="239" height="163" fill="#0466ae" stroke="#5fa6f7" stroke-width="3"/>
<rect x="300" y="618" width="176" height="50" fill="#1a72b4"/>
<rect x="300" y="642.54" width="176" height="8.50" fill="#2079b9" opacity="0.75"/>
<rect x="300" y="625.54" width="176" height="8.50" fill="#2079b9" opacity="0.75"/>
<rect x="300" y="659.54" width="176" height="8.46" fill="#1c76b7" opacity="0.6"/>
<path d="M300.00,658.41 C301.06,658.54 303.94,658.64 306.07,659.16 C308.19,659.69 310.01,661.41 312.14,661.41 C314.26,661.32 316.08,659.08 318.21,658.66 C320.33,658.66 322.15,658.93 324.28,659.04 C326.40,659.15 328.22,659.29 330.34,659.29 C332.47,659.29 334.29,659.15 336.41,659.04 C338.54,658.93 340.36,658.66 342.48,658.66 C344.61,658.97 346.43,660.78 348.55,660.78 C350.68,660.78 352.50,659.03 354.62,658.66 C356.74,658.66 358.57,658.66 360.69,658.66 C362.81,659.10 364.63,661.16 366.76,661.16 C368.88,658.47 370.70,647.68 372.83,643.31 C374.95,638.94 376.77,639.02 378.90,636.20 C381.02,633.38 382.84,627.21 384.97,627.21 C387.09,629.83 388.91,647.96 391.03,651.17 C393.16,651.17 394.98,649.58 397.10,645.56 C399.23,641.54 401.05,628.21 403.17,628.21 C405.30,628.61 407.12,643.52 409.24,647.81 C411.37,652.09 413.19,652.67 415.31,652.67 C417.43,651.91 419.26,645.27 421.38,643.44 C423.50,642.19 425.32,642.19 427.45,642.19 C429.57,643.67 431.39,651.55 433.52,651.92 C435.64,651.92 437.46,644.31 439.59,644.31 C441.71,645.53 443.53,656.25 445.66,658.91 C447.78,659.54 449.60,659.32 451.72,659.54 C453.85,659.75 455.67,660.16 457.79,660.16 C459.92,659.94 461.74,658.29 463.86,658.29 C465.99,658.62 467.81,661.86 469.93,662.03 C472.06,662.03 474.94,659.77 476.00,659.29 L476.00,659.54 L300.00,659.54 Z" fill="url(#ar)" opacity="0.93"/>
<path d="M300,659.54 L476,659.54" stroke="#fff" stroke-width="1"/>
<path d="M300.00,659.54 L300.00,664.54" stroke="#fff" stroke-width="1"/>
<path d="M324.28,659.54 L324.28,664.54" stroke="#fff" stroke-width="1"/>
<path d="M348.55,659.54 L348.55,664.54" stroke="#fff" stroke-width="1"/>
<path d="M372.83,659.54 L372.83,664.54" stroke="#fff" stroke-width="1"/>
<path d="M397.10,659.54 L397.10,664.54" stroke="#fff" stroke-width="1"/>
<path d="M421.38,659.54 L421.38,664.54" stroke="#fff" stroke-width="1"/>
<path d="M445.66,659.54 L445.66,664.54" stroke="#fff" stroke-width="1"/>
<path d="M469.93,659.54 L469.93,664.54" stroke="#fff" stroke-width="1"/>
<path d="M300.00,658.41 C301.06,658.54 303.94,658.64 306.07,659.16 C308.19,659.69 310.01,661.41 312.14,661.41 C314.26,661.32 316.08,659.08 318.21,658.66 C320.33,658.66 322.15,658.93 324.28,659.04 C326.40,659.15 328.22,659.29 330.34,659.29 C332.47,659.29 334.29,659.15 336.41,659.04 C338.54,658.93 340.36,658.66 342.48,658.66 C344.61,658.97 346.43,660.78 348.55,660.78 C350.68,660.78 352.50,659.03 354.62,658.66 C356.74,658.66 358.57,658.66 360.69,658.66 C362.81,659.10 364.63,661.16 366.76,661.16 C368.88,658.47 370.70,647.68 372.83,643.31 C374.95,638.94 376.77,639.02 378.90,636.20 C381.02,633.38 382.84,627.21 384.97,627.21 C387.09,629.83 388.91,647.96 391.03,651.17 C393.16,651.17 394.98,649.58 397.10,645.56 C399.23,641.54 401.05,628.21 403.17,628.21 C405.30,628.61 407.12,643.52 409.24,647.81 C411.37,652.09 413.19,652.67 415.31,652.67 C417.43,651.91 419.26,645.27 421.38,643.44 C423.50,642.19 425.32,642.19 427.45,642.19 C429.57,643.67 431.39,651.55 433.52,651.92 C435.64,651.92 437.46,644.31 439.59,644.31 C441.71,645.53 443.53,656.25 445.66,658.91 C447.78,659.54 449.60,659.32 451.72,659.54 C453.85,659.75 455.67,660.16 457.79,660.16 C459.92,659.94 461.74,658.29 463.86,658.29 C465.99,658.62 467.81,661.86 469.93,662.03 C472.06,662.03 474.94,659.77 476.00,659.29" fill="none" stroke="#f4f64c" stroke-width="2" stroke-linejoin="round"/>
<circle cx="300.00" cy="658.20" r="2.4" fill="#2fc2c8"/><circle cx="306.07" cy="658.99" r="2.4" fill="#2fc2c8"/><circle cx="312.14" cy="661.26" r="2.4" fill="#2fc2c8"/><circle cx="318.21" cy="658.46" r="2.4" fill="#2fc2c8"/><circle cx="324.28" cy="658.86" r="2.4" fill="#2fc2c8"/><circle cx="330.34" cy="659.12" r="2.4" fill="#2fc2c8"/><circle cx="336.41" cy="658.86" r="2.4" fill="#2fc2c8"/><circle cx="342.48" cy="658.46" r="2.4" fill="#2fc2c8"/><circle cx="348.55" cy="660.63" r="2.4" fill="#2fc2c8"/><circle cx="354.62" cy="658.46" r="2.4" fill="#2fc2c8"/><circle cx="360.69" cy="658.46" r="2.4" fill="#2fc2c8"/><circle cx="366.76" cy="661.01" r="2.4" fill="#2fc2c8"/><circle cx="372.83" cy="642.27" r="2.4" fill="#2fc2c8"/><circle cx="378.90" cy="634.77" r="2.4" fill="#2fc2c8"/><circle cx="384.97" cy="625.29" r="2.4" fill="#2fc2c8"/><circle cx="391.03" cy="650.57" r="2.4" fill="#2fc2c8"/><circle cx="397.10" cy="644.64" r="2.4" fill="#2fc2c8"/><circle cx="403.17" cy="626.34" r="2.4" fill="#2fc2c8"/><circle cx="409.24" cy="647.01" r="2.4" fill="#2fc2c8"/><circle cx="415.31" cy="652.15" r="2.4" fill="#2fc2c8"/><circle cx="421.38" cy="642.40" r="2.4" fill="#2fc2c8"/><circle cx="427.45" cy="641.09" r="2.4" fill="#2fc2c8"/><circle cx="433.52" cy="651.36" r="2.4" fill="#2fc2c8"/><circle cx="439.59" cy="643.32" r="2.4" fill="#2fc2c8"/><circle cx="445.66" cy="658.73" r="2.4" fill="#2fc2c8"/><circle cx="451.72" cy="659.39" r="2.4" fill="#2fc2c8"/><circle cx="457.79" cy="660.01" r="2.4" fill="#2fc2c8"/><circle cx="463.86" cy="658.07" r="2.4" fill="#2fc2c8"/><circle cx="469.93" cy="661.88" r="2.4" fill="#2fc2c8"/><circle cx="476.00" cy="659.12" r="2.4" fill="#2fc2c8"/><circle cx="300.00" cy="658.41" r="2.3" fill="#b897da"/><circle cx="306.07" cy="659.16" r="2.3" fill="#b897da"/><circle cx="312.14" cy="661.41" r="2.3" fill="#b897da"/><circle cx="318.21" cy="658.66" r="2.3" fill="#b897da"/><circle cx="324.28" cy="659.04" r="2.3" fill="#b897da"/><circle cx="330.34" cy="659.29" r="2.3" fill="#b897da"/><circle cx="336.41" cy="659.04" r="2.3" fill="#b897da"/><circle cx="342.48" cy="658.66" r="2.3" fill="#b897da"/><circle cx="348.55" cy="660.78" r="2.3" fill="#b897da"/><circle cx="354.62" cy="658.66" r="2.3" fill="#b897da"/><circle cx="360.69" cy="658.66" r="2.3" fill="#b897da"/><circle cx="366.76" cy="661.16" r="2.3" fill="#b897da"/><circle cx="372.83" cy="643.31" r="2.3" fill="#b897da"/><circle cx="378.90" cy="636.20" r="2.3" fill="#b897da"/><circle cx="384.97" cy="627.21" r="2.3" fill="#b897da"/><circle cx="391.03" cy="651.17" r="2.3" fill="#b897da"/><circle cx="397.10" cy="645.56" r="2.3" fill="#b897da"/><circle cx="403.17" cy="628.21" r="2.3" fill="#b897da"/><circle cx="409.24" cy="647.81" r="2.3" fill="#b897da"/><circle cx="415.31" cy="652.67" r="2.3" fill="#b897da"/><circle cx="421.38" cy="643.44" r="2.3" fill="#b897da"/><circle cx="427.45" cy="642.19" r="2.3" fill="#b897da"/><circle cx="433.52" cy="651.92" r="2.3" fill="#b897da"/><circle cx="439.59" cy="644.31" r="2.3" fill="#b897da"/><circle cx="445.66" cy="658.91" r="2.3" fill="#b897da"/><circle cx="451.72" cy="659.54" r="2.3" fill="#b897da"/><circle cx="457.79" cy="660.16" r="2.3" fill="#b897da"/><circle cx="463.86" cy="658.29" r="2.3" fill="#b897da"/><circle cx="469.93" cy="662.03" r="2.3" fill="#b897da"/><circle cx="476.00" cy="659.29" r="2.3" fill="#b897da"/><circle cx="300.00" cy="658.41" r="0.6" fill="#d9c6ee"/><circle cx="306.07" cy="659.16" r="0.6" fill="#d9c6ee"/><circle cx="312.14" cy="661.41" r="0.6" fill="#d9c6ee"/><circle cx="318.21" cy="658.66" r="0.6" fill="#d9c6ee"/><circle cx="324.28" cy="659.04" r="0.6" fill="#d9c6ee"/><circle cx="330.34" cy="659.29" r="0.6" fill="#d9c6ee"/><circle cx="336.41" cy="659.04" r="0.6" fill="#d9c6ee"/><circle cx="342.48" cy="658.66" r="0.6" fill="#d9c6ee"/><circle cx="348.55" cy="660.78" r="0.6" fill="#d9c6ee"/><circle cx="354.62" cy="658.66" r="0.6" fill="#d9c6ee"/><circle cx="360.69" cy="658.66" r="0.6" fill="#d9c6ee"/><circle cx="366.76" cy="661.16" r="0.6" fill="#d9c6ee"/><circle cx="372.83" cy="643.31" r="0.6" fill="#d9c6ee"/><circle cx="378.90" cy="636.20" r="0.6" fill="#d9c6ee"/><circle cx="384.97" cy="627.21" r="0.6" fill="#d9c6ee"/><circle cx="391.03" cy="651.17" r="0.6" fill="#d9c6ee"/><circle cx="397.10" cy="645.56" r="0.6" fill="#d9c6ee"/><circle cx="403.17" cy="628.21" r="0.6" fill="#d9c6ee"/><circle cx="409.24" cy="647.81" r="0.6" fill="#d9c6ee"/><circle cx="415.31" cy="652.67" r="0.6" fill="#d9c6ee"/><circle cx="421.38" cy="643.44" r="0.6" fill="#d9c6ee"/><circle cx="427.45" cy="642.19" r="0.6" fill="#d9c6ee"/><circle cx="433.52" cy="651.92" r="0.6" fill="#d9c6ee"/><circle cx="439.59" cy="644.31" r="0.6" fill="#d9c6ee"/><circle cx="445.66" cy="658.91" r="0.6" fill="#d9c6ee"/><circle cx="451.72" cy="659.54" r="0.6" fill="#d9c6ee"/><circle cx="457.79" cy="660.16" r="0.6" fill="#d9c6ee"/><circle cx="463.86" cy="658.29" r="0.6" fill="#d9c6ee"/><circle cx="469.93" cy="662.03" r="0.6" fill="#d9c6ee"/><circle cx="476.00" cy="659.29" r="0.6" fill="#d9c6ee"/>
<rect x="510.5" y="531.5" width="239" height="163" fill="#0466ae" stroke="#5fa6f7" stroke-width="3"/>
<rect x="552" y="618" width="176" height="50" fill="#1a72b4"/>
<rect x="552" y="646.03" width="176" height="7.75" fill="#2079b9" opacity="0.75"/>
<rect x="552" y="630.53" width="176" height="7.75" fill="#2079b9" opacity="0.75"/>
<rect x="552" y="618.00" width="176" height="4.78" fill="#2079b9" opacity="0.75"/>
<rect x="552" y="661.53" width="176" height="6.47" fill="#1c76b7" opacity="0.6"/>
<path d="M552.00,660.91 C553.06,661.21 555.94,662.66 558.07,662.66 C560.19,662.53 562.01,660.53 564.14,660.16 C566.26,660.16 568.08,660.43 570.21,660.53 C572.33,660.64 574.15,660.78 576.28,660.78 C578.40,660.61 580.22,659.69 582.34,659.54 C584.47,659.54 586.29,659.54 588.41,659.91 C590.54,660.41 592.36,662.08 594.48,662.41 C596.61,662.41 598.43,662.35 600.55,661.78 C602.68,661.21 604.50,659.31 606.62,659.16 C608.74,659.16 610.57,660.41 612.69,660.91 C614.81,661.41 616.63,662.03 618.76,662.03 C620.88,655.96 622.70,627.94 624.83,626.22 C626.95,626.22 628.77,649.55 630.90,652.17 C633.02,652.17 634.84,644.86 636.97,641.19 C639.09,637.52 640.91,632.30 643.03,631.21 C645.16,631.21 646.98,632.44 649.10,634.95 C651.23,637.46 653.05,643.20 655.17,645.56 C657.30,647.92 659.12,647.45 661.24,648.43 C663.37,649.41 665.19,650.30 667.31,651.17 C669.43,652.05 671.26,653.42 673.38,653.42 C675.50,652.66 677.32,648.12 679.45,646.81 C681.57,645.93 683.39,645.93 685.52,645.93 C687.64,647.42 689.46,652.41 691.59,655.29 C693.71,658.18 695.53,661.16 697.66,662.41 C699.78,662.41 701.60,662.41 703.72,662.41 C705.85,662.19 707.67,661.73 709.79,661.16 C711.92,660.59 713.74,659.38 715.86,659.16 C717.99,659.16 719.81,659.85 721.93,659.91 C724.06,659.91 726.94,659.60 728.00,659.54 L728.00,661.53 L552.00,661.53 Z" fill="url(#ar)" opacity="0.93"/>
<path d="M552,661.53 L728,661.53" stroke="#fff" stroke-width="1"/>
<path d="M552.00,661.53 L552.00,666.53" stroke="#fff" stroke-width="1"/>
<path d="M576.28,661.53 L576.28,666.53" stroke="#fff" stroke-width="1"/>
<path d="M600.55,661.53 L600.55,666.53" stroke="#fff" stroke-width="1"/>
<path d="M624.83,661.53 L624.83,666.53" stroke="#fff" stroke-width="1"/>
<path d="M649.10,661.53 L649.10,666.53" stroke="#fff" stroke-width="1"/>
<path d="M673.38,661.53 L673.38,666.53" stroke="#fff" stroke-width="1"/>
<path d="M697.66,661.53 L697.66,666.53" stroke="#fff" stroke-width="1"/>
<path d="M721.93,661.53 L721.93,666.53" stroke="#fff" stroke-width="1"/>
<path d="M552.00,660.91 C553.06,661.21 555.94,662.66 558.07,662.66 C560.19,662.53 562.01,660.53 564.14,660.16 C566.26,660.16 568.08,660.43 570.21,660.53 C572.33,660.64 574.15,660.78 576.28,660.78 C578.40,660.61 580.22,659.69 582.34,659.54 C584.47,659.54 586.29,659.54 588.41,659.91 C590.54,660.41 592.36,662.08 594.48,662.41 C596.61,662.41 598.43,662.35 600.55,661.78 C602.68,661.21 604.50,659.31 606.62,659.16 C608.74,659.16 610.57,660.41 612.69,660.91 C614.81,661.41 616.63,662.03 618.76,662.03 C620.88,655.96 622.70,627.94 624.83,626.22 C626.95,626.22 628.77,649.55 630.90,652.17 C633.02,652.17 634.84,644.86 636.97,641.19 C639.09,637.52 640.91,632.30 643.03,631.21 C645.16,631.21 646.98,632.44 649.10,634.95 C651.23,637.46 653.05,643.20 655.17,645.56 C657.30,647.92 659.12,647.45 661.24,648.43 C663.37,649.41 665.19,650.30 667.31,651.17 C669.43,652.05 671.26,653.42 673.38,653.42 C675.50,652.66 677.32,648.12 679.45,646.81 C681.57,645.93 683.39,645.93 685.52,645.93 C687.64,647.42 689.46,652.41 691.59,655.29 C693.71,658.18 695.53,661.16 697.66,662.41 C699.78,662.41 701.60,662.41 703.72,662.41 C705.85,662.19 707.67,661.73 709.79,661.16 C711.92,660.59 713.74,659.38 715.86,659.16 C717.99,659.16 719.81,659.85 721.93,659.91 C724.06,659.91 726.94,659.60 728.00,659.54" fill="none" stroke="#f4f64c" stroke-width="2" stroke-linejoin="round"/>
<circle cx="552.00" cy="660.72" r="2.4" fill="#2fc2c8"/><circle cx="558.07" cy="662.51" r="2.4" fill="#2fc2c8"/><circle cx="564.14" cy="659.93" r="2.4" fill="#2fc2c8"/><circle cx="570.21" cy="660.33" r="2.4" fill="#2fc2c8"/><circle cx="576.28" cy="660.59" r="2.4" fill="#2fc2c8"/><circle cx="582.34" cy="659.28" r="2.4" fill="#2fc2c8"/><circle cx="588.41" cy="659.67" r="2.4" fill="#2fc2c8"/><circle cx="594.48" cy="662.26" r="2.4" fill="#2fc2c8"/><circle cx="600.55" cy="661.63" r="2.4" fill="#2fc2c8"/><circle cx="606.62" cy="658.88" r="2.4" fill="#2fc2c8"/><circle cx="612.69" cy="660.72" r="2.4" fill="#2fc2c8"/><circle cx="618.76" cy="661.88" r="2.4" fill="#2fc2c8"/><circle cx="624.83" cy="624.12" r="2.4" fill="#2fc2c8"/><circle cx="630.90" cy="651.51" r="2.4" fill="#2fc2c8"/><circle cx="636.97" cy="639.92" r="2.4" fill="#2fc2c8"/><circle cx="643.03" cy="629.39" r="2.4" fill="#2fc2c8"/><circle cx="649.10" cy="633.34" r="2.4" fill="#2fc2c8"/><circle cx="655.17" cy="644.53" r="2.4" fill="#2fc2c8"/><circle cx="661.24" cy="647.56" r="2.4" fill="#2fc2c8"/><circle cx="667.31" cy="650.46" r="2.4" fill="#2fc2c8"/><circle cx="673.38" cy="652.83" r="2.4" fill="#2fc2c8"/><circle cx="679.45" cy="645.85" r="2.4" fill="#2fc2c8"/><circle cx="685.52" cy="644.93" r="2.4" fill="#2fc2c8"/><circle cx="691.59" cy="654.80" r="2.4" fill="#2fc2c8"/><circle cx="697.66" cy="662.26" r="2.4" fill="#2fc2c8"/><circle cx="703.72" cy="662.26" r="2.4" fill="#2fc2c8"/><circle cx="709.79" cy="660.99" r="2.4" fill="#2fc2c8"/><circle cx="715.86" cy="658.88" r="2.4" fill="#2fc2c8"/><circle cx="721.93" cy="659.67" r="2.4" fill="#2fc2c8"/><circle cx="728.00" cy="659.28" r="2.4" fill="#2fc2c8"/><circle cx="552.00" cy="660.91" r="2.3" fill="#b897da"/><circle cx="558.07" cy="662.66" r="2.3" fill="#b897da"/><circle cx="564.14" cy="660.16" r="2.3" fill="#b897da"/><circle cx="570.21" cy="660.53" r="2.3" fill="#b897da"/><circle cx="576.28" cy="660.78" r="2.3" fill="#b897da"/><circle cx="582.34" cy="659.54" r="2.3" fill="#b897da"/><circle cx="588.41" cy="659.91" r="2.3" fill="#b897da"/><circle cx="594.48" cy="662.41" r="2.3" fill="#b897da"/><circle cx="600.55" cy="661.78" r="2.3" fill="#b897da"/><circle cx="606.62" cy="659.16" r="2.3" fill="#b897da"/><circle cx="612.69" cy="660.91" r="2.3" fill="#b897da"/><circle cx="618.76" cy="662.03" r="2.3" fill="#b897da"/><circle cx="624.83" cy="626.22" r="2.3" fill="#b897da"/><circle cx="630.90" cy="652.17" r="2.3" fill="#b897da"/><circle cx="636.97" cy="641.19" r="2.3" fill="#b897da"/><circle cx="643.03" cy="631.21" r="2.3" fill="#b897da"/><circle cx="649.10" cy="634.95" r="2.3" fill="#b897da"/><circle cx="655.17" cy="645.56" r="2.3" fill="#b897da"/><circle cx="661.24" cy="648.43" r="2.3" fill="#b897da"/><circle cx="667.31" cy="651.17" r="2.3" fill="#b897da"/><circle cx="673.38" cy="653.42" r="2.3" fill="#b897da"/><circle cx="679.45" cy="646.81" r="2.3" fill="#b897da"/><circle cx="685.52" cy="645.93" r="2.3" fill="#b897da"/><circle cx="691.59" cy="655.29" r="2.3" fill="#b897da"/><circle cx="697.66" cy="662.41" r="2.3" fill="#b897da"/><circle cx="703.72" cy="662.41" r="2.3" fill="#b897da"/><circle cx="709.79" cy="661.16" r="2.3" fill="#b897da"/><circle cx="715.86" cy="659.16" r="2.3" fill="#b897da"/><circle cx="721.93" cy="659.91" r="2.3" fill="#b897da"/><circle cx="728.00" cy="659.54" r="2.3" fill="#b897da"/><circle cx="552.00" cy="660.91" r="0.6" fill="#d9c6ee"/><circle cx="558.07" cy="662.66" r="0.6" fill="#d9c6ee"/><circle cx="564.14" cy="660.16" r="0.6" fill="#d9c6ee"/><circle cx="570.21" cy="660.53" r="0.6" fill="#d9c6ee"/><circle cx="576.28" cy="660.78" r="0.6" fill="#d9c6ee"/><circle cx="582.34" cy="659.54" r="0.6" fill="#d9c6ee"/><circle cx="588.41" cy="659.91" r="0.6" fill="#d9c6ee"/><circle cx="594.48" cy="662.41" r="0.6" fill="#d9c6ee"/><circle cx="600.55" cy="661.78" r="0.6" fill="#d9c6ee"/><circle cx="606.62" cy="659.16" r="0.6" fill="#d9c6ee"/><circle cx="612.69" cy="660.91" r="0.6" fill="#d9c6ee"/><circle cx="618.76" cy="662.03" r="0.6" fill="#d9c6ee"/><circle cx="624.83" cy="626.22" r="0.6" fill="#d9c6ee"/><circle cx="630.90" cy="652.17" r="0.6" fill="#d9c6ee"/><circle cx="636.97" cy="641.19" r="0.6" fill="#d9c6ee"/><circle cx="643.03" cy="631.21" r="0.6" fill="#d9c6ee"/><circle cx="649.10" cy="634.95" r="0.6" fill="#d9c6ee"/><circle cx="655.17" cy="645.56" r="0.6" fill="#d9c6ee"/><circle cx="661.24" cy="648.43" r="0.6" fill="#d9c6ee"/><circle cx="667.31" cy="651.17" r="0.6" fill="#d9c6ee"/><circle cx="673.38" cy="653.42" r="0.6" fill="#d9c6ee"/><circle cx="679.45" cy="646.81" r="0.6" fill="#d9c6ee"/><circle cx="685.52" cy="645.93" r="0.6" fill="#d9c6ee"/><circle cx="691.59" cy="655.29" r="0.6" fill="#d9c6ee"/><circle cx="697.66" cy="662.41" r="0.6" fill="#d9c6ee"/><circle cx="703.72" cy="662.41" r="0.6" fill="#d9c6ee"/><circle cx="709.79" cy="661.16" r="0.6" fill="#d9c6ee"/><circle cx="715.86" cy="659.16" r="0.6" fill="#d9c6ee"/><circle cx="721.93" cy="659.91" r="0.6" fill="#d9c6ee"/><circle cx="728.00" cy="659.54" r="0.6" fill="#d9c6ee"/>
<rect x="6.5" y="704.5" width="239" height="162" fill="#0466ae" stroke="#5fa6f7" stroke-width="3"/>
<rect x="48" y="791" width="176" height="50" fill="#1a72b4"/>
<rect x="48" y="819.03" width="176" height="7.75" fill="#2079b9" opacity="0.75"/>
<rect x="48" y="803.53" width="176" height="7.75" fill="#2079b9" opacity="0.75"/>
<rect x="48" y="791.00" width="176" height="4.78" fill="#2079b9" opacity="0.75"/>
<rect x="48" y="834.53" width="176" height="6.47" fill="#1c76b7" opacity="0.6"/>
<path d="M48.00,834.16 C49.06,834.27 51.94,834.56 54.07,834.78 C56.19,835.00 58.01,835.41 60.14,835.41 C62.26,835.41 64.08,835.07 66.21,834.78 C68.33,834.50 70.15,833.78 72.28,833.78 C74.40,833.89 76.22,835.12 78.34,835.41 C80.47,835.41 82.29,835.41 84.41,835.41 C86.54,835.08 88.36,833.97 90.48,833.53 C92.61,833.10 94.43,832.91 96.55,832.91 C98.68,832.91 100.50,833.49 102.62,833.53 C104.74,833.53 106.57,833.27 108.69,833.16 C110.81,833.05 112.63,833.16 114.76,832.91 C116.88,827.78 118.70,809.62 120.83,803.83 C122.95,799.84 124.77,799.93 126.90,799.84 C129.02,799.84 130.84,803.12 132.97,803.33 C135.09,803.33 136.91,801.70 139.03,801.09 C141.16,800.48 142.98,800.28 145.10,799.84 C147.23,799.40 149.05,798.59 151.17,798.59 C153.30,802.92 155.12,821.12 157.24,824.55 C159.37,824.55 161.19,818.18 163.31,818.18 C165.43,818.56 167.26,826.45 169.38,826.67 C171.50,826.67 173.32,820.37 175.45,819.43 C177.57,819.43 179.39,820.69 181.52,821.30 C183.64,821.92 185.46,821.30 187.59,822.93 C189.71,824.89 191.53,830.68 193.66,832.54 C195.78,833.53 197.60,833.53 199.72,833.53 C201.85,833.53 203.67,832.54 205.79,832.54 C207.92,832.54 209.74,833.14 211.86,833.53 C213.99,833.93 215.81,834.74 217.93,834.78 C220.06,834.78 222.94,833.96 224.00,833.78 L224.00,834.53 L48.00,834.53 Z" fill="url(#ar)" opacity="0.93"/>
<path d="M48,834.53 L224,834.53" stroke="#fff" stroke-width="1"/>
<path d="M48.00,834.53 L48.00,839.53" stroke="#fff" stroke-width="1"/>
<path d="M72.28,834.53 L72.28,839.53" stroke="#fff" stroke-width="1"/>
<path d="M96.55,834.53 L96.55,839.53" stroke="#fff" stroke-width="1"/>
<path d="M120.83,834.53 L120.83,839.53" stroke="#fff" stroke-width="1"/>
<path d="M145.10,834.53 L145.10,839.53" stroke="#fff" stroke-width="1"/>
<path d="M169.38,834.53 L169.38,839.53" stroke="#fff" stroke-width="1"/>
<path d="M193.66,834.53 L193.66,839.53" stroke="#fff" stroke-width="1"/>
<path d="M217.93,834.53 L217.93,839.53" stroke="#fff" stroke-width="1"/>
<path d="M48.00,834.16 C49.06,834.27 51.94,834.56 54.07,834.78 C56.19,835.00 58.01,835.41 60.14,835.41 C62.26,835.41 64.08,835.07 66.21,834.78 C68.33,834.50 70.15,833.78 72.28,833.78 C74.40,833.89 76.22,835.12 78.34,835.41 C80.47,835.41 82.29,835.41 84.41,835.41 C86.54,835.08 88.36,833.97 90.48,833.53 C92.61,833.10 94.43,832.91 96.55,832.91 C98.68,832.91 100.50,833.49 102.62,833.53 C104.74,833.53 106.57,833.27 108.69,833.16 C110.81,833.05 112.63,833.16 114.76,832.91 C116.88,827.78 118.70,809.62 120.83,803.83 C122.95,799.84 124.77,799.93 126.90,799.84 C129.02,799.84 130.84,803.12 132.97,803.33 C135.09,803.33 136.91,801.70 139.03,801.09 C141.16,800.48 142.98,800.28 145.10,799.84 C147.23,799.40 149.05,798.59 151.17,798.59 C153.30,802.92 155.12,821.12 157.24,824.55 C159.37,824.55 161.19,818.18 163.31,818.18 C165.43,818.56 167.26,826.45 169.38,826.67 C171.50,826.67 173.32,820.37 175.45,819.43 C177.57,819.43 179.39,820.69 181.52,821.30 C183.64,821.92 185.46,821.30 187.59,822.93 C189.71,824.89 191.53,830.68 193.66,832.54 C195.78,833.53 197.60,833.53 199.72,833.53 C201.85,833.53 203.67,832.54 205.79,832.54 C207.92,832.54 209.74,833.14 211.86,833.53 C213.99,833.93 215.81,834.74 217.93,834.78 C220.06,834.78 222.94,833.96 224.00,833.78" fill="none" stroke="#f4f64c" stroke-width="2" stroke-linejoin="round"/>
<circle cx="48.00" cy="833.99" r="2.4" fill="#2fc2c8"/><circle cx="54.07" cy="834.63" r="2.4" fill="#2fc2c8"/><circle cx="60.14" cy="835.26" r="2.4" fill="#2fc2c8"/><circle cx="66.21" cy="834.63" r="2.4" fill="#2fc2c8"/><circle cx="72.28" cy="833.59" r="2.4" fill="#2fc2c8"/><circle cx="78.34" cy="835.26" r="2.4" fill="#2fc2c8"/><circle cx="84.41" cy="835.26" r="2.4" fill="#2fc2c8"/><circle cx="90.48" cy="833.33" r="2.4" fill="#2fc2c8"/><circle cx="96.55" cy="832.67" r="2.4" fill="#2fc2c8"/><circle cx="102.62" cy="833.33" r="2.4" fill="#2fc2c8"/><circle cx="108.69" cy="832.93" r="2.4" fill="#2fc2c8"/><circle cx="114.76" cy="832.67" r="2.4" fill="#2fc2c8"/><circle cx="120.83" cy="801.99" r="2.4" fill="#2fc2c8"/><circle cx="126.90" cy="797.78" r="2.4" fill="#2fc2c8"/><circle cx="132.97" cy="801.47" r="2.4" fill="#2fc2c8"/><circle cx="139.03" cy="799.10" r="2.4" fill="#2fc2c8"/><circle cx="145.10" cy="797.78" r="2.4" fill="#2fc2c8"/><circle cx="151.17" cy="796.46" r="2.4" fill="#2fc2c8"/><circle cx="157.24" cy="823.85" r="2.4" fill="#2fc2c8"/><circle cx="163.31" cy="817.14" r="2.4" fill="#2fc2c8"/><circle cx="169.38" cy="826.09" r="2.4" fill="#2fc2c8"/><circle cx="175.45" cy="818.45" r="2.4" fill="#2fc2c8"/><circle cx="181.52" cy="820.43" r="2.4" fill="#2fc2c8"/><circle cx="187.59" cy="822.14" r="2.4" fill="#2fc2c8"/><circle cx="193.66" cy="832.28" r="2.4" fill="#2fc2c8"/><circle cx="199.72" cy="833.33" r="2.4" fill="#2fc2c8"/><circle cx="205.79" cy="832.28" r="2.4" fill="#2fc2c8"/><circle cx="211.86" cy="833.33" r="2.4" fill="#2fc2c8"/><circle cx="217.93" cy="834.63" r="2.4" fill="#2fc2c8"/><circle cx="224.00" cy="833.59" r="2.4" fill="#2fc2c8"/><circle cx="48.00" cy="834.16" r="2.3" fill="#b897da"/><circle cx="54.07" cy="834.78" r="2.3" fill="#b897da"/><circle cx="60.14" cy="835.41" r="2.3" fill="#b897da"/><circle cx="66.21" cy="834.78" r="2.3" fill="#b897da"/><circle cx="72.28" cy="833.78" r="2.3" fill="#b897da"/><circle cx="78.34" cy="835.41" r="2.3" fill="#b897da"/><circle cx="84.41" cy="835.41" r="2.3" fill="#b897da"/><circle cx="90.48" cy="833.53" r="2.3" fill="#b897da"/><circle cx="96.55" cy="832.91" r="2.3" fill="#b897da"/><circle cx="102.62" cy="833.53" r="2.3" fill="#b897da"/><circle cx="108.69" cy="833.16" r="2.3" fill="#b897da"/><circle cx="114.76" cy="832.91" r="2.3" fill="#b897da"/><circle cx="120.83" cy="803.83" r="2.3" fill="#b897da"/><circle cx="126.90" cy="799.84" r="2.3" fill="#b897da"/><circle cx="132.97" cy="803.33" r="2.3" fill="#b897da"/><circle cx="139.03" cy="801.09" r="2.3" fill="#b897da"/><circle cx="145.10" cy="799.84" r="2.3" fill="#b897da"/><circle cx="151.17" cy="798.59" r="2.3" fill="#b897da"/><circle cx="157.24" cy="824.55" r="2.3" fill="#b897da"/><circle cx="163.31" cy="818.18" r="2.3" fill="#b897da"/><circle cx="169.38" cy="826.67" r="2.3" fill="#b897da"/><circle cx="175.45" cy="819.43" r="2.3" fill="#b897da"/><circle cx="181.52" cy="821.30" r="2.3" fill="#b897da"/><circle cx="187.59" cy="822.93" r="2.3" fill="#b897da"/><circle cx="193.66" cy="832.54" r="2.3" fill="#b897da"/><circle cx="199.72" cy="833.53" r="2.3" fill="#b897da"/><circle cx="205.79" cy="832.54" r="2.3" fill="#b897da"/><circle cx="211.86" cy="833.53" r="2.3" fill="#b897da"/><circle cx="217.93" cy="834.78" r="2.3" fill="#b897da"/><circle cx="224.00" cy="833.78" r="2.3" fill="#b897da"/><circle cx="48.00" cy="834.16" r="0.6" fill="#d9c6ee"/><circle cx="54.07" cy="834.78" r="0.6" fill="#d9c6ee"/><circle cx="60.14" cy="835.41" r="0.6" fill="#d9c6ee"/><circle cx="66.21" cy="834.78" r="0.6" fill="#d9c6ee"/><circle cx="72.28" cy="833.78" r="0.6" fill="#d9c6ee"/><circle cx="78.34" cy="835.41" r="0.6" fill="#d9c6ee"/><circle cx="84.41" cy="835.41" r="0.6" fill="#d9c6ee"/><circle cx="90.48" cy="833.53" r="0.6" fill="#d9c6ee"/><circle cx="96.55" cy="832.91" r="0.6" fill="#d9c6ee"/><circle cx="102.62" cy="833.53" r="0.6" fill="#d9c6ee"/><circle cx="108.69" cy="833.16" r="0.6" fill="#d9c6ee"/><circle cx="114.76" cy="832.91" r="0.6" fill="#d9c6ee"/><circle cx="120.83" cy="803.83" r="0.6" fill="#d9c6ee"/><circle cx="126.90" cy="799.84" r="0.6" fill="#d9c6ee"/><circle cx="132.97" cy="803.33" r="0.6" fill="#d9c6ee"/><circle cx="139.03" cy="801.09" r="0.6" fill="#d9c6ee"/><circle cx="145.10" cy="799.84" r="0.6" fill="#d9c6ee"/><circle cx="151.17" cy="798.59" r="0.6" fill="#d9c6ee"/><circle cx="157.24" cy="824.55" r="0.6" fill="#d9c6ee"/><circle cx="163.31" cy="818.18" r="0.6" fill="#d9c6ee"/><circle cx="169.38" cy="826.67" r="0.6" fill="#d9c6ee"/><circle cx="175.45" cy="819.43" r="0.6" fill="#d9c6ee"/><circle cx="181.52" cy="821.30" r="0.6" fill="#d9c6ee"/><circle cx="187.59" cy="822.93" r="0.6" fill="#d9c6ee"/><circle cx="193.66" cy="832.54" r="0.6" fill="#d9c6ee"/><circle cx="199.72" cy="833.53" r="0.6" fill="#d9c6ee"/><circle cx="205.79" cy="832.54" r="0.6" fill="#d9c6ee"/><circle cx="211.86" cy="833.53" r="0.6" fill="#d9c6ee"/><circle cx="217.93" cy="834.78" r="0.6" fill="#d9c6ee"/><circle cx="224.00" cy="833.78" r="0.6" fill="#d9c6ee"/>
<rect x="258.5" y="704.5" width="239" height="162" fill="#0466ae" stroke="#5fa6f7" stroke-width="3"/>
<rect x="300" y="791" width="176" height="50" fill="#1a72b4"/>
<rect x="300" y="815.54" width="176" height="8.50" fill="#2079b9" opacity="0.75"/>
<rect x="300" y="798.54" width="176" height="8.50" fill="#2079b9" opacity="0.75"/>
<rect x="300" y="832.54" width="176" height="8.46" fill="#1c76b7" opacity="0.6"/>
<path d="M300.00,831.91 C301.06,832.35 303.94,834.41 306.07,834.41 C308.19,834.26 310.01,831.30 312.14,831.04 C314.26,831.04 316.08,832.76 318.21,832.91 C320.33,832.91 322.15,832.02 324.28,831.91 C326.40,831.91 328.22,832.11 330.34,832.29 C332.47,832.46 334.29,832.91 336.41,832.91 C338.54,832.65 340.36,830.83 342.48,830.79 C344.61,830.79 346.43,832.46 348.55,832.66 C350.68,832.66 352.50,831.91 354.62,831.91 C356.74,832.13 358.57,833.91 360.69,833.91 C362.81,833.82 364.63,833.12 366.76,831.41 C368.88,829.71 370.70,829.63 372.83,824.17 C374.95,818.72 376.77,800.59 378.90,800.21 C381.02,800.21 382.84,818.91 384.97,822.05 C387.09,822.05 388.91,822.05 391.03,818.18 C393.16,814.08 394.98,800.05 397.10,798.59 C399.23,798.59 401.05,806.26 403.17,809.82 C405.30,813.38 407.12,818.02 409.24,818.93 C411.37,818.93 413.19,815.94 415.31,815.06 C417.43,814.19 419.26,813.94 421.38,813.94 C423.50,815.14 425.32,821.06 427.45,821.93 C429.57,821.93 431.39,819.46 433.52,818.93 C435.64,818.93 437.46,818.93 439.59,818.93 C441.71,821.55 443.53,831.20 445.66,833.91 C447.78,834.41 449.60,834.41 451.72,834.41 C453.85,834.39 455.67,834.41 457.79,833.78 C459.92,833.13 461.74,831.21 463.86,830.66 C465.99,830.66 467.81,830.66 469.93,830.66 C472.06,830.77 474.94,831.18 476.00,831.29 L476.00,832.54 L300.00,832.54 Z" fill="url(#ar)" opacity="0.93"/>
<path d="M300,832.54 L476,832.54" stroke="#fff" stroke-width="1"/>
<path d="M300.00,832.54 L300.00,837.54" stroke="#fff" stroke-width="1"/>
<path d="M324.28,832.54 L324.28,837.54" stroke="#fff" stroke-width="1"/>
<path d="M348.55,832.54 L348.55,837.54" stroke="#fff" stroke-width="1"/>
<path d="M372.83,832.54 L372.83,837.54" stroke="#fff" stroke-width="1"/>
<path d="M397.10,832.54 L397.10,837.54" stroke="#fff" stroke-width="1"/>
<path d="M421.38,832.54 L421.38,837.54" stroke="#fff" stroke-width="1"/>
<path d="M445.66,832.54 L445.66,837.54" stroke="#fff" stroke-width="1"/>
<path d="M469.93,832.54 L469.93,837.54" stroke="#fff" stroke-width="1"/>
<path d="M300.00,831.91 C301.06,832.35 303.94,834.41 306.07,834.41 C308.19,834.26 310.01,831.30 312.14,831.04 C314.26,831.04 316.08,832.76 318.21,832.91 C320.33,832.91 322.15,832.02 324.28,831.91 C326.40,831.91 328.22,832.11 330.34,832.29 C332.47,832.46 334.29,832.91 336.41,832.91 C338.54,832.65 340.36,830.83 342.48,830.79 C344.61,830.79 346.43,832.46 348.55,832.66 C350.68,832.66 352.50,831.91 354.62,831.91 C356.74,832.13 358.57,833.91 360.69,833.91 C362.81,833.82 364.63,833.12 366.76,831.41 C368.88,829.71 370.70,829.63 372.83,824.17 C374.95,818.72 376.77,800.59 378.90,800.21 C381.02,800.21 382.84,818.91 384.97,822.05 C387.09,822.05 388.91,822.05 391.03,818.18 C393.16,814.08 394.98,800.05 397.10,798.59 C399.23,798.59 401.05,806.26 403.17,809.82 C405.30,813.38 407.12,818.02 409.24,818.93 C411.37,818.93 413.19,815.94 415.31,815.06 C417.43,814.19 419.26,813.94 421.38,813.94 C423.50,815.14 425.32,821.06 427.45,821.93 C429.57,821.93 431.39,819.46 433.52,818.93 C435.64,818.93 437.46,818.93 439.59,818.93 C441.71,821.55 443.53,831.20 445.66,833.91 C447.78,834.41 449.60,834.41 451.72,834.41 C453.85,834.39 455.67,834.41 457.79,833.78 C459.92,833.13 461.74,831.21 463.86,830.66 C465.99,830.66 467.81,830.66 469.93,830.66 C472.06,830.77 474.94,831.18 476.00,831.29" fill="none" stroke="#f4f64c" stroke-width="2" stroke-linejoin="round"/>
<circle cx="300.00" cy="831.73" r="2.4" fill="#2fc2c8"/><circle cx="306.07" cy="834.26" r="2.4" fill="#2fc2c8"/><circle cx="312.14" cy="830.81" r="2.4" fill="#2fc2c8"/><circle cx="318.21" cy="832.76" r="2.4" fill="#2fc2c8"/><circle cx="324.28" cy="831.73" r="2.4" fill="#2fc2c8"/><circle cx="330.34" cy="832.12" r="2.4" fill="#2fc2c8"/><circle cx="336.41" cy="832.76" r="2.4" fill="#2fc2c8"/><circle cx="342.48" cy="830.54" r="2.4" fill="#2fc2c8"/><circle cx="348.55" cy="832.51" r="2.4" fill="#2fc2c8"/><circle cx="354.62" cy="831.73" r="2.4" fill="#2fc2c8"/><circle cx="360.69" cy="833.76" r="2.4" fill="#2fc2c8"/><circle cx="366.76" cy="831.20" r="2.4" fill="#2fc2c8"/><circle cx="372.83" cy="823.57" r="2.4" fill="#2fc2c8"/><circle cx="378.90" cy="798.29" r="2.4" fill="#2fc2c8"/><circle cx="384.97" cy="821.33" r="2.4" fill="#2fc2c8"/><circle cx="391.03" cy="817.25" r="2.4" fill="#2fc2c8"/><circle cx="397.10" cy="796.57" r="2.4" fill="#2fc2c8"/><circle cx="403.17" cy="808.42" r="2.4" fill="#2fc2c8"/><circle cx="409.24" cy="818.04" r="2.4" fill="#2fc2c8"/><circle cx="415.31" cy="813.95" r="2.4" fill="#2fc2c8"/><circle cx="421.38" cy="812.77" r="2.4" fill="#2fc2c8"/><circle cx="427.45" cy="821.20" r="2.4" fill="#2fc2c8"/><circle cx="433.52" cy="818.04" r="2.4" fill="#2fc2c8"/><circle cx="439.59" cy="818.04" r="2.4" fill="#2fc2c8"/><circle cx="445.66" cy="833.76" r="2.4" fill="#2fc2c8"/><circle cx="451.72" cy="834.26" r="2.4" fill="#2fc2c8"/><circle cx="457.79" cy="833.63" r="2.4" fill="#2fc2c8"/><circle cx="463.86" cy="830.41" r="2.4" fill="#2fc2c8"/><circle cx="469.93" cy="830.41" r="2.4" fill="#2fc2c8"/><circle cx="476.00" cy="831.07" r="2.4" fill="#2fc2c8"/><circle cx="300.00" cy="831.91" r="2.3" fill="#b897da"/><circle cx="306.07" cy="834.41" r="2.3" fill="#b897da"/><circle cx="312.14" cy="831.04" r="2.3" fill="#b897da"/><circle cx="318.21" cy="832.91" r="2.3" fill="#b897da"/><circle cx="324.28" cy="831.91" r="2.3" fill="#b897da"/><circle cx="330.34" cy="832.29" r="2.3" fill="#b897da"/><circle cx="336.41" cy="832.91" r="2.3" fill="#b897da"/><circle cx="342.48" cy="830.79" r="2.3" fill="#b897da"/><circle cx="348.55" cy="832.66" r="2.3" fill="#b897da"/><circle cx="354.62" cy="831.91" r="2.3" fill="#b897da"/><circle cx="360.69" cy="833.91" r="2.3" fill="#b897da"/><circle cx="366.76" cy="831.41" r="2.3" fill="#b897da"/><circle cx="372.83" cy="824.17" r="2.3" fill="#b897da"/><circle cx="378.90" cy="800.21" r="2.3" fill="#b897da"/><circle cx="384.97" cy="822.05" r="2.3" fill="#b897da"/><circle cx="391.03" cy="818.18" r="2.3" fill="#b897da"/><circle cx="397.10" cy="798.59" r="2.3" fill="#b897da"/><circle cx="403.17" cy="809.82" r="2.3" fill="#b897da"/><circle cx="409.24" cy="818.93" r="2.3" fill="#b897da"/><circle cx="415.31" cy="815.06" r="2.3" fill="#b897da"/><circle cx="421.38" cy="813.94" r="2.3" fill="#b897da"/><circle cx="427.45" cy="821.93" r="2.3" fill="#b897da"/><circle cx="433.52" cy="818.93" r="2.3" fill="#b897da"/><circle cx="439.59" cy="818.93" r="2.3" fill="#b897da"/><circle cx="445.66" cy="833.91" r="2.3" fill="#b897da"/><circle cx="451.72" cy="834.41" r="2.3" fill="#b897da"/><circle cx="457.79" cy="833.78" r="2.3" fill="#b897da"/><circle cx="463.86" cy="830.66" r="2.3" fill="#b897da"/><circle cx="469.93" cy="830.66" r="2.3" fill="#b897da"/><circle cx="476.00" cy="831.29" r="2.3" fill="#b897da"/><circle cx="300.00" cy="831.91" r="0.6" fill="#d9c6ee"/><circle cx="306.07" cy="834.41" r="0.6" fill="#d9c6ee"/><circle cx="312.14" cy="831.04" r="0.6" fill="#d9c6ee"/><circle cx="318.21" cy="832.91" r="0.6" fill="#d9c6ee"/><circle cx="324.28" cy="831.91" r="0.6" fill="#d9c6ee"/><circle cx="330.34" cy="832.29" r="0.6" fill="#d9c6ee"/><circle cx="336.41" cy="832.91" r="0.6" fill="#d9c6ee"/><circle cx="342.48" cy="830.79" r="0.6" fill="#d9c6ee"/><circle cx="348.55" cy="832.66" r="0.6" fill="#d9c6ee"/><circle cx="354.62" cy="831.91" r="0.6" fill="#d9c6ee"/><circle cx="360.69" cy="833.91" r="0.6" fill="#d9c6ee"/><circle cx="366.76" cy="831.41" r="0.6" fill="#d9c6ee"/><circle cx="372.83" cy="824.17" r="0.6" fill="#d9c6ee"/><circle cx="378.90" cy="800.21" r="0.6" fill="#d9c6ee"/><circle cx="384.97" cy="822.05" r="0.6" fill="#d9c6ee"/><circle cx="391.03" cy="818.18" r="0.6" fill="#d9c6ee"/><circle cx="397.10" cy="798.59" r="0.6" fill="#d9c6ee"/><circle cx="403.17" cy="809.82" r="0.6" fill="#d9c6ee"/><circle cx="409.24" cy="818.93" r="0.6" fill="#d9c6ee"/><circle cx="415.31" cy="815.06" r="0.6" fill="#d9c6ee"/><circle cx="421.38" cy="813.94" r="0.6" fill="#d9c6ee"/><circle cx="427.45" cy="821.93" r="0.6" fill="#d9c6ee"/><circle cx="433.52" cy="818.93" r="0.6" fill="#d9c6ee"/><circle cx="439.59" cy="818.93" r="0.6" fill="#d9c6ee"/><circle cx="445.66" cy="833.91" r="0.6" fill="#d9c6ee"/><circle cx="451.72" cy="834.41" r="0.6" fill="#d9c6ee"/><circle cx="457.79" cy="833.78" r="0.6" fill="#d9c6ee"/><circle cx="463.86" cy="830.66" r="0.6" fill="#d9c6ee"/><circle cx="469.93" cy="830.66" r="0.6" fill="#d9c6ee"/><circle cx="476.00" cy="831.29" r="0.6" fill="#d9c6ee"/>
<rect x="510.5" y="704.5" width="239" height="162" fill="#0466ae" stroke="#5fa6f7" stroke-width="3"/>
<rect x="552" y="791" width="176" height="50" fill="#1a72b4"/>
<rect x="552" y="815.54" width="176" height="8.50" fill="#2079b9" opacity="0.75"/>
<rect x="552" y="798.54" width="176" height="8.50" fill="#2079b9" opacity="0.75"/>
<rect x="552" y="832.54" width="176" height="8.46" fill="#1c76b7" opacity="0.6"/>
<path d="M552.00,832.91 C553.06,832.80 555.94,832.51 558.07,832.29 C560.19,832.07 562.01,831.66 564.14,831.66 C566.26,832.06 568.08,834.25 570.21,834.53 C572.33,834.53 574.15,833.83 576.28,833.29 C578.40,832.74 580.22,831.41 582.34,831.41 C584.47,831.46 586.29,833.53 588.41,833.53 C590.54,833.53 592.36,831.63 594.48,831.41 C596.61,831.41 598.43,832.29 600.55,832.29 C602.68,832.11 604.50,830.41 606.62,830.41 C608.74,830.57 610.57,832.40 612.69,833.16 C614.81,833.92 616.63,834.78 618.76,834.78 C620.88,831.40 622.70,818.84 624.83,813.82 C626.95,808.79 628.77,806.08 630.90,806.08 C633.02,807.50 634.84,820.95 636.97,821.93 C639.09,821.93 640.91,814.03 643.03,811.70 C645.16,809.36 646.98,811.31 649.10,808.58 C651.23,805.85 653.05,796.10 655.17,796.10 C657.30,798.56 659.12,818.24 661.24,822.68 C663.37,822.68 665.19,822.63 667.31,821.43 C669.43,820.23 671.26,816.32 673.38,815.81 C675.50,815.81 677.32,817.14 679.45,818.56 C681.57,819.98 683.39,823.93 685.52,823.93 C687.64,823.82 689.46,817.94 691.59,817.94 C693.71,819.51 695.53,830.62 697.66,832.91 C699.78,832.91 701.60,831.10 703.72,831.04 C705.85,831.04 707.67,831.99 709.79,832.54 C711.92,833.08 713.74,834.16 715.86,834.16 C717.99,833.85 719.81,831.29 721.93,830.79 C724.06,830.79 726.94,831.20 728.00,831.29 L728.00,832.54 L552.00,832.54 Z" fill="url(#ar)" opacity="0.93"/>
<path d="M552,832.54 L728,832.54" stroke="#fff" stroke-width="1"/>
<path d="M552.00,832.54 L552.00,837.54" stroke="#fff" stroke-width="1"/>
<path d="M576.28,832.54 L576.28,837.54" stroke="#fff" stroke-width="1"/>
<path d="M600.55,832.54 L600.55,837.54" stroke="#fff" stroke-width="1"/>
<path d="M624.83,832.54 L624.83,837.54" stroke="#fff" stroke-width="1"/>
<path d="M649.10,832.54 L649.10,837.54" stroke="#fff" stroke-width="1"/>
<path d="M673.38,832.54 L673.38,837.54" stroke="#fff" stroke-width="1"/>
<path d="M697.66,832.54 L697.66,837.54" stroke="#fff" stroke-width="1"/>
<path d="M721.93,832.54 L721.93,837.54" stroke="#fff" stroke-width="1"/>
<path d="M552.00,832.91 C553.06,832.80 555.94,832.51 558.07,832.29 C560.19,832.07 562.01,831.66 564.14,831.66 C566.26,832.06 568.08,834.25 570.21,834.53 C572.33,834.53 574.15,833.83 576.28,833.29 C578.40,832.74 580.22,831.41 582.34,831.41 C584.47,831.46 586.29,833.53 588.41,833.53 C590.54,833.53 592.36,831.63 594.48,831.41 C596.61,831.41 598.43,832.29 600.55,832.29 C602.68,832.11 604.50,830.41 606.62,830.41 C608.74,830.57 610.57,832.40 612.69,833.16 C614.81,833.92 616.63,834.78 618.76,834.78 C620.88,831.40 622.70,818.84 624.83,813.82 C626.95,808.79 628.77,806.08 630.90,806.08 C633.02,807.50 634.84,820.95 636.97,821.93 C639.09,821.93 640.91,814.03 643.03,811.70 C645.16,809.36 646.98,811.31 649.10,808.58 C651.23,805.85 653.05,796.10 655.17,796.10 C657.30,798.56 659.12,818.24 661.24,822.68 C663.37,822.68 665.19,822.63 667.31,821.43 C669.43,820.23 671.26,816.32 673.38,815.81 C675.50,815.81 677.32,817.14 679.45,818.56 C681.57,819.98 683.39,823.93 685.52,823.93 C687.64,823.82 689.46,817.94 691.59,817.94 C693.71,819.51 695.53,830.62 697.66,832.91 C699.78,832.91 701.60,831.10 703.72,831.04 C705.85,831.04 707.67,831.99 709.79,832.54 C711.92,833.08 713.74,834.16 715.86,834.16 C717.99,833.85 719.81,831.29 721.93,830.79 C724.06,830.79 726.94,831.20 728.00,831.29" fill="none" stroke="#f4f64c" stroke-width="2" stroke-linejoin="round"/>
<circle cx="552.00" cy="832.76" r="2.4" fill="#2fc2c8"/><circle cx="558.07" cy="832.12" r="2.4" fill="#2fc2c8"/><circle cx="564.14" cy="831.46" r="2.4" fill="#2fc2c8"/><circle cx="570.21" cy="834.38" r="2.4" fill="#2fc2c8"/><circle cx="576.28" cy="833.14" r="2.4" fill="#2fc2c8"/><circle cx="582.34" cy="831.20" r="2.4" fill="#2fc2c8"/><circle cx="588.41" cy="833.38" r="2.4" fill="#2fc2c8"/><circle cx="594.48" cy="831.20" r="2.4" fill="#2fc2c8"/><circle cx="600.55" cy="832.12" r="2.4" fill="#2fc2c8"/><circle cx="606.62" cy="830.15" r="2.4" fill="#2fc2c8"/><circle cx="612.69" cy="833.01" r="2.4" fill="#2fc2c8"/><circle cx="618.76" cy="834.63" r="2.4" fill="#2fc2c8"/><circle cx="624.83" cy="812.64" r="2.4" fill="#2fc2c8"/><circle cx="630.90" cy="804.47" r="2.4" fill="#2fc2c8"/><circle cx="636.97" cy="821.20" r="2.4" fill="#2fc2c8"/><circle cx="643.03" cy="810.40" r="2.4" fill="#2fc2c8"/><circle cx="649.10" cy="807.11" r="2.4" fill="#2fc2c8"/><circle cx="655.17" cy="793.94" r="2.4" fill="#2fc2c8"/><circle cx="661.24" cy="821.99" r="2.4" fill="#2fc2c8"/><circle cx="667.31" cy="820.67" r="2.4" fill="#2fc2c8"/><circle cx="673.38" cy="814.74" r="2.4" fill="#2fc2c8"/><circle cx="679.45" cy="817.64" r="2.4" fill="#2fc2c8"/><circle cx="685.52" cy="823.30" r="2.4" fill="#2fc2c8"/><circle cx="691.59" cy="816.98" r="2.4" fill="#2fc2c8"/><circle cx="697.66" cy="832.76" r="2.4" fill="#2fc2c8"/><circle cx="703.72" cy="830.81" r="2.4" fill="#2fc2c8"/><circle cx="709.79" cy="832.39" r="2.4" fill="#2fc2c8"/><circle cx="715.86" cy="834.01" r="2.4" fill="#2fc2c8"/><circle cx="721.93" cy="830.54" r="2.4" fill="#2fc2c8"/><circle cx="728.00" cy="831.07" r="2.4" fill="#2fc2c8"/><circle cx="552.00" cy="832.91" r="2.3" fill="#b897da"/><circle cx="558.07" cy="832.29" r="2.3" fill="#b897da"/><circle cx="564.14" cy="831.66" r="2.3" fill="#b897da"/><circle cx="570.21" cy="834.53" r="2.3" fill="#b897da"/><circle cx="576.28" cy="833.29" r="2.3" fill="#b897da"/><circle cx="582.34" cy="831.41" r="2.3" fill="#b897da"/><circle cx="588.41" cy="833.53" r="2.3" fill="#b897da"/><circle cx="594.48" cy="831.41" r="2.3" fill="#b897da"/><circle cx="600.55" cy="832.29" r="2.3" fill="#b897da"/><circle cx="606.62" cy="830.41" r="2.3" fill="#b897da"/><circle cx="612.69" cy="833.16" r="2.3" fill="#b897da"/><circle cx="618.76" cy="834.78" r="2.3" fill="#b897da"/><circle cx="624.83" cy="813.82" r="2.3" fill="#b897da"/><circle cx="630.90" cy="806.08" r="2.3" fill="#b897da"/><circle cx="636.97" cy="821.93" r="2.3" fill="#b897da"/><circle cx="643.03" cy="811.70" r="2.3" fill="#b897da"/><circle cx="649.10" cy="808.58" r="2.3" fill="#b897da"/><circle cx="655.17" cy="796.10" r="2.3" fill="#b897da"/><circle cx="661.24" cy="822.68" r="2.3" fill="#b897da"/><circle cx="667.31" cy="821.43" r="2.3" fill="#b897da"/><circle cx="673.38" cy="815.81" r="2.3" fill="#b897da"/><circle cx="679.45" cy="818.56" r="2.3" fill="#b897da"/><circle cx="685.52" cy="823.93" r="2.3" fill="#b897da"/><circle cx="691.59" cy="817.94" r="2.3" fill="#b897da"/><circle cx="697.66" cy="832.91" r="2.3" fill="#b897da"/><circle cx="703.72" cy="831.04" r="2.3" fill="#b897da"/><circle cx="709.79" cy="832.54" r="2.3" fill="#b897da"/><circle cx="715.86" cy="834.16" r="2.3" fill="#b897da"/><circle cx="721.93" cy="830.79" r="2.3" fill="#b897da"/><circle cx="728.00" cy="831.29" r="2.3" fill="#b897da"/><circle cx="552.00" cy="832.91" r="0.6" fill="#d9c6ee"/><circle cx="558.07" cy="832.29" r="0.6" fill="#d9c6ee"/><circle cx="564.14" cy="831.66" r="0.6" fill="#d9c6ee"/><circle cx="570.21" cy="834.53" r="0.6" fill="#d9c6ee"/><circle cx="576.28" cy="833.29" r="0.6" fill="#d9c6ee"/><circle cx="582.34" cy="831.41" r="0.6" fill="#d9c6ee"/><circle cx="588.41" cy="833.53" r="0.6" fill="#d9c6ee"/><circle cx="594.48" cy="831.41" r="0.6" fill="#d9c6ee"/><circle cx="600.55" cy="832.29" r="0.6" fill="#d9c6ee"/><circle cx="606.62" cy="830.41" r="0.6" fill="#d9c6ee"/><circle cx="612.69" cy="833.16" r="0.6" fill="#d9c6ee"/><circle cx="618.76" cy="834.78" r="0.6" fill="#d9c6ee"/><circle cx="624.83" cy="813.82" r="0.6" fill="#d9c6ee"/><circle cx="630.90" cy="806.08" r="0.6" fill="#d9c6ee"/><circle cx="636.97" cy="821.93" r="0.6" fill="#d9c6ee"/><circle cx="643.03" cy="811.70" r="0.6" fill="#d9c6ee"/><circle cx="649.10" cy="808.58" r="0.6" fill="#d9c6ee"/><circle cx="655.17" cy="796.10" r="0.6" fill="#d9c6ee"/><circle cx="661.24" cy="822.68" r="0.6" fill="#d9c6ee"/><circle cx="667.31" cy="821.43" r="0.6" fill="#d9c6ee"/><circle cx="673.38" cy="815.81" r="0.6" fill="#d9c6ee"/><circle cx="679.45" cy="818.56" r="0.6" fill="#d9c6ee"/><circle cx="685.52" cy="823.93" r="0.6" fill="#d9c6ee"/><circle cx="691.59" cy="817.94" r="0.6" fill="#d9c6ee"/><circle cx="697.66" cy="832.91" r="0.6" fill="#d9c6ee"/><circle cx="703.72" cy="831.04" r="0.6" fill="#d9c6ee"/><circle cx="709.79" cy="832.54" r="0.6" fill="#d9c6ee"/><circle cx="715.86" cy="834.16" r="0.6" fill="#d9c6ee"/><circle cx="721.93" cy="830.79" r="0.6" fill="#d9c6ee"/><circle cx="728.00" cy="831.29" r="0.6" fill="#d9c6ee"/>
<rect x="775" y="501" width="671" height="188.5" fill="#09244f"/>
<path d="M775.75,491 L775.75,689.5 " stroke="#12528c" stroke-width="1.5" fill="none"/>
<path d="M1445,501 L1445,689.5" stroke="#10437a" stroke-width="2" fill="none"/>
<path d="M775,688.5 L1446,688.5" stroke="#104780" stroke-width="2" fill="none"/>
<polygon points="775.75,491.75 1011,491.75 1025,501.75 1445,501.75 1445,520.5 788,520.5 775.75,512.0" fill="url(#tb)" stroke="url(#tbs)" stroke-width="1.25"/>
<polygon points="1022.5,492.6 1031.5,492.6 1035.6,498.4 1026.6,498.4" fill="#2279c5"/>
<polygon points="1039.2,492.6 1048.2,492.6 1052.3,498.4 1043.3,498.4" fill="#2279c5"/>
<polygon points="1055.9,492.6 1064.9,492.6 1069.0,498.4 1060.0,498.4" fill="#2279c5"/>
<polygon points="788.6,506.25 800,498.80125 811.4,506.25 800,513.69875" fill="none" stroke="#22b0d4" stroke-width="1.2"/>
<polygon points="793.958,506.25 800,502.3021625 806.042,506.25 800,510.1978375" fill="#34dcf9"/>
<rect x="775" y="490.5" width="9" height="2" fill="#fff"/>
<rect x="1438" y="500.5" width="8" height="2" fill="#fff"/>
<rect x="775" y="687.4" width="9" height="2" fill="#fff"/>
<rect x="1438" y="687.4" width="8" height="2" fill="#fff"/>
<rect x="775" y="711" width="671" height="189" fill="#09244f"/>
<path d="M775.75,701 L775.75,738 " stroke="#12528c" stroke-width="1.5" fill="none"/>
<path d="M1445,711 L1445,900" stroke="#10437a" stroke-width="2" fill="none"/>
<polygon points="775.75,701.75 1011,701.75 1025,711.75 1445,711.75 1445,731 788,731 775.75,722.5" fill="url(#tb)" stroke="url(#tbs)" stroke-width="1.25"/>
<polygon points="1022.5,702.6 1031.5,702.6 1035.6,708.4 1026.6,708.4" fill="#2279c5"/>
<polygon points="1039.2,702.6 1048.2,702.6 1052.3,708.4 1043.3,708.4" fill="#2279c5"/>
<polygon points="1055.9,702.6 1064.9,702.6 1069.0,708.4 1060.0,708.4" fill="#2279c5"/>
<polygon points="788.6,716.5 800,708.925 811.4,716.5 800,724.075" fill="none" stroke="#22b0d4" stroke-width="1.2"/>
<polygon points="793.958,716.5 800,712.48525 806.042,716.5 800,720.51475" fill="#34dcf9"/>
<rect x="775" y="700.5" width="9" height="2" fill="#fff"/>
<rect x="1438" y="710.5" width="8" height="2" fill="#fff"/>
<rect x="784" y="738" width="652" height="29.8" rx="5" fill="#0c3d6a"/>
<rect x="784" y="798" width="652" height="29.8" rx="5" fill="#0c3d6a"/>
<rect x="784" y="858" width="652" height="29.8" rx="5" fill="#0c3d6a"/>
<rect x="1461" y="70" width="422" height="830" fill="#08224f"/>
<rect x="1461.5" y="70.5" width="421" height="42" fill="#09244f" stroke="#134a85" stroke-width="1"/>
<rect x="1461.5" y="112.5" width="421" height="300" fill="#0a2b5a" stroke="#134a85" stroke-width="1"/>
<rect x="1461.5" y="416.5" width="421" height="236" fill="#0a2b5a" stroke="#134a85" stroke-width="1"/>
<rect x="1461.5" y="656.5" width="421" height="243" fill="#0a2b5a" stroke="#134a85" stroke-width="1"/>
<path d="M1461.75,70 L1461.75,893 M1882.25,70 L1882.25,893" stroke="#1c69a8" stroke-width="1.3"/>
<rect x="1461" y="69.5" width="9" height="2" fill="#fff"/><rect x="1874" y="69.5" width="9" height="2" fill="#fff"/>
<path d="M1667.5,173.0 L1667.5,221.0" stroke="#2083ee" stroke-width="1.2"/>
<path d="M1667.5,230.8 L1667.5,278.8" stroke="#2083ee" stroke-width="1.2"/>
<path d="M1667.5,288.6 L1667.5,336.6" stroke="#2083ee" stroke-width="1.2"/>
<path d="M1667.5,346.4 L1667.5,394.4" stroke="#2083ee" stroke-width="1.2"/>
<path d="M1667.5,477.2 L1667.5,525.2" stroke="#2083ee" stroke-width="1.2"/>
<path d="M1667.5,535.0 L1667.5,583.0" stroke="#2083ee" stroke-width="1.2"/>
<path d="M1667.5,592.9 L1667.5,640.9" stroke="#2083ee" stroke-width="1.2"/>
<path d="M1667.5,717.4 L1667.5,765.4" stroke="#2083ee" stroke-width="1.2"/>
<path d="M1667.5,775.2 L1667.5,823.2" stroke="#2083ee" stroke-width="1.2"/>
<path d="M1667.5,833.0 L1667.5,881.0" stroke="#2083ee" stroke-width="1.2"/>
</svg>
<header>
<h1 class="t" style="top:14.00px;font-size:26px;line-height:34px;color:#c9f3ff;letter-spacing:-0.2px;left:66.00px;">智慧光伏一体化管理平台</h1>
<nav>
<div class="t" style="top:35.00px;font-size:14px;line-height:20px;color:#c8f2ff;font-weight:bold;letter-spacing:-0.2px;left:531.00px;">场站总览</div>
<div class="t" style="top:35.00px;font-size:14px;line-height:20px;color:#c8f2ff;font-weight:bold;letter-spacing:-0.2px;left:667.00px;">光伏图</div>
<div class="t" style="top:35.00px;font-size:14px;line-height:20px;color:#c8f2ff;font-weight:bold;letter-spacing:-0.2px;left:797.00px;">升压站</div>
<div class="t" style="top:35.00px;font-size:14px;line-height:20px;color:#c8f2ff;font-weight:bold;letter-spacing:-0.2px;left:920.00px;">运行分析</div>
<div class="t" style="top:35.00px;font-size:14px;line-height:20px;color:#c8f2ff;font-weight:bold;letter-spacing:-0.2px;left:1049.00px;">决策中心</div>
<div class="t" style="top:35.00px;font-size:14px;line-height:20px;color:#c8f2ff;font-weight:bold;letter-spacing:-0.2px;left:1179.00px;">预警中心</div>
<div class="t" style="top:35.00px;font-size:14px;line-height:20px;color:#c8f2ff;font-weight:bold;letter-spacing:-0.2px;left:1308.00px;">报表中心</div>
</nav>
<div class="t" style="top:2.80px;font-size:14px;line-height:20px;color:#29c3f5;letter-spacing:-0.1px;left:1711.00px;">运维中台</div>
<div class="t" style="top:2.80px;font-size:14px;line-height:20px;color:#29c3f5;letter-spacing:0.1px;left:1818.00px;">管理员 白班</div>
<div class="t" style="top:34.50px;font-size:18px;line-height:24px;color:#fff;right:11.50px;">2025-05-15 15:04:14 星期四</div>
</header>
<main>
<section class="panel" id="power-curve">
<div class="t" style="top:78.00px;font-size:15px;line-height:20px;color:#fff;letter-spacing:-0.45px;left:35.00px;">总功率-光照幅度-时间曲线</div>
<div class="t" style="top:109.20px;font-size:12px;line-height:16px;color:#e3e8f0;font-weight:bold;left:25.00px;">总功率（kW）</div>
<div class="t" style="top:109.20px;font-size:12.3px;line-height:16px;color:#e3e8f0;font-weight:bold;left:1177.50px;">光照幅度（W/m²）</div>
<div class="t" style="top:110.00px;font-size:14px;line-height:18px;color:#fff;font-weight:bold;left:1364.00px;">更多数据</div>
<div class="t" style="top:240.80px;font-size:12.6px;line-height:14px;color:#e3e8f0;font-weight:bold;right:1842.00px;">0</div>
<div class="t" style="top:240.80px;font-size:12.6px;line-height:14px;color:#e3e8f0;font-weight:bold;left:1239.00px;">0</div>
<div class="t" style="top:225.16px;font-size:12.6px;line-height:14px;color:#e3e8f0;font-weight:bold;right:1842.00px;">30</div>
<div class="t" style="top:225.16px;font-size:12.6px;line-height:14px;color:#e3e8f0;font-weight:bold;left:1239.00px;">30</div>
<div class="t" style="top:209.51px;font-size:12.6px;line-height:14px;color:#e3e8f0;font-weight:bold;right:1842.00px;">60</div>
<div class="t" style="top:209.51px;font-size:12.6px;line-height:14px;color:#e3e8f0;font-weight:bold;left:1239.00px;">60</div>
<div class="t" style="top:193.87px;font-size:12.6px;line-height:14px;color:#e3e8f0;font-weight:bold;right:1842.00px;">90</div>
<div class="t" style="top:193.87px;font-size:12.6px;line-height:14px;color:#e3e8f0;font-weight:bold;left:1239.00px;">90</div>
<div class="t" style="top:178.23px;font-size:12.6px;line-height:14px;color:#e3e8f0;font-weight:bold;right:1842.00px;">120</div>
<div class="t" style="top:178.23px;font-size:12.6px;line-height:14px;color:#e3e8f0;font-weight:bold;left:1239.00px;">120</div>
<div class="t" style="top:162.59px;font-size:12.6px;line-height:14px;color:#e3e8f0;font-weight:bold;right:1842.00px;">150</div>
<div class="t" style="top:162.59px;font-size:12.6px;line-height:14px;color:#e3e8f0;font-weight:bold;left:1239.00px;">150</div>
<div class="t" style="top:146.94px;font-size:12.6px;line-height:14px;color:#e3e8f0;font-weight:bold;right:1842.00px;">180</div>
<div class="t" style="top:146.94px;font-size:12.6px;line-height:14px;color:#e3e8f0;font-weight:bold;left:1239.00px;">180</div>
<div class="t" style="top:131.30px;font-size:12.6px;line-height:14px;color:#e3e8f0;font-weight:bold;right:1842.00px;">210</div>
<div class="t" style="top:131.30px;font-size:12.6px;line-height:14px;color:#e3e8f0;font-weight:bold;left:1239.00px;">210</div>
<div class="t" style="top:241.00px;font-size:12px;line-height:14px;color:#e3e8f0;font-weight:bold;left:1249.50px;">时间（hh:mm）</div>
<div class="t" style="top:254.80px;font-size:12.6px;line-height:14px;color:#e3e8f0;font-weight:bold;left:65.50px;transform:translateX(-50%);">1</div>
<div class="t" style="top:254.80px;font-size:12.6px;line-height:14px;color:#e3e8f0;font-weight:bold;left:116.13px;transform:translateX(-50%);">2</div>
<div class="t" style="top:254.80px;font-size:12.6px;line-height:14px;color:#e3e8f0;font-weight:bold;left:166.76px;transform:translateX(-50%);">3</div>
<div class="t" style="top:254.80px;font-size:12.6px;line-height:14px;color:#e3e8f0;font-weight:bold;left:217.39px;transform:translateX(-50%);">4</div>
<div class="t" style="top:254.80px;font-size:12.6px;line-height:14px;color:#e3e8f0;font-weight:bold;left:268.02px;transform:translateX(-50%);">5</div>
<div class="t" style="top:254.80px;font-size:12.6px;line-height:14px;color:#e3e8f0;font-weight:bold;left:318.65px;transform:translateX(-50%);">6</div>
<div class="t" style="top:254.80px;font-size:12.6px;line-height:14px;color:#e3e8f0;font-weight:bold;left:369.28px;transform:translateX(-50%);">7</div>
<div class="t" style="top:254.80px;font-size:12.6px;line-height:14px;color:#e3e8f0;font-weight:bold;left:419.91px;transform:translateX(-50%);">8</div>
<div class="t" style="top:254.80px;font-size:12.6px;line-height:14px;color:#e3e8f0;font-weight:bold;left:470.54px;transform:translateX(-50%);">9</div>
<div class="t" style="top:254.80px;font-size:12.6px;line-height:14px;color:#e3e8f0;font-weight:bold;left:521.17px;transform:translateX(-50%);">10</div>
<div class="t" style="top:254.80px;font-size:12.6px;line-height:14px;color:#e3e8f0;font-weight:bold;left:571.80px;transform:translateX(-50%);">11</div>
<div class="t" style="top:254.80px;font-size:12.6px;line-height:14px;color:#e3e8f0;font-weight:bold;left:622.43px;transform:translateX(-50%);">12</div>
<div class="t" style="top:254.80px;font-size:12.6px;line-height:14px;color:#e3e8f0;font-weight:bold;left:673.07px;transform:translateX(-50%);">13</div>
<div class="t" style="top:254.80px;font-size:12.6px;line-height:14px;color:#e3e8f0;font-weight:bold;left:723.70px;transform:translateX(-50%);">14</div>
<div class="t" style="top:254.80px;font-size:12.6px;line-height:14px;color:#e3e8f0;font-weight:bold;left:774.33px;transform:translateX(-50%);">15</div>
<div class="t" style="top:254.80px;font-size:12.6px;line-height:14px;color:#e3e8f0;font-weight:bold;left:824.96px;transform:translateX(-50%);">16</div>
<div class="t" style="top:254.80px;font-size:12.6px;line-height:14px;color:#e3e8f0;font-weight:bold;left:875.59px;transform:translateX(-50%);">17</div>
<div class="t" style="top:254.80px;font-size:12.6px;line-height:14px;color:#e3e8f0;font-weight:bold;left:926.22px;transform:translateX(-50%);">18</div>
<div class="t" style="top:254.80px;font-size:12.6px;line-height:14px;color:#e3e8f0;font-weight:bold;left:976.85px;transform:translateX(-50%);">19</div>
<div class="t" style="top:254.80px;font-size:12.6px;line-height:14px;color:#e3e8f0;font-weight:bold;left:1027.48px;transform:translateX(-50%);">20</div>
<div class="t" style="top:254.80px;font-size:12.6px;line-height:14px;color:#e3e8f0;font-weight:bold;left:1078.11px;transform:translateX(-50%);">21</div>
<div class="t" style="top:254.80px;font-size:12.6px;line-height:14px;color:#e3e8f0;font-weight:bold;left:1128.74px;transform:translateX(-50%);">22</div>
<div class="t" style="top:254.80px;font-size:12.6px;line-height:14px;color:#e3e8f0;font-weight:bold;left:1179.37px;transform:translateX(-50%);">23</div>
<div class="t" style="top:254.80px;font-size:12.6px;line-height:14px;color:#e3e8f0;font-weight:bold;left:1230.00px;transform:translateX(-50%);">24</div>
<div class="t" style="top:145.05px;font-size:12px;line-height:14px;color:#e3e8f0;left:1351.00px;">总功率</div>
<div class="t" style="top:167.05px;font-size:12px;line-height:14px;color:#e3e8f0;left:1351.00px;">光照幅度</div>
</section>
<section class="panel" id="daily-stat">
<div class="t" style="top:301.35px;font-size:15px;line-height:20px;color:#fff;letter-spacing:-0.45px;left:35.60px;">日发/送电统计【2025-5】</div>
<div class="t" style="top:332.00px;font-size:12px;line-height:14px;color:#e3e8f0;font-weight:bold;left:46.00px;">kWh</div>
<div class="t" style="top:333.50px;font-size:12px;line-height:14px;color:#e3e8f0;left:212.00px;">日发统计</div>
<div class="t" style="top:333.50px;font-size:12px;line-height:14px;color:#e3e8f0;left:300.00px;">日送统计</div>
<div class="t" style="top:330.00px;font-size:14px;line-height:18px;color:#fff;font-weight:bold;left:438.00px;">更多数据</div>
<div class="t" style="top:430.60px;font-size:12.4px;line-height:14px;color:#e3e8f0;font-weight:bold;right:1848.00px;">0</div>
<div class="t" style="top:417.67px;font-size:12.4px;line-height:14px;color:#e3e8f0;font-weight:bold;right:1848.00px;">20,000</div>
<div class="t" style="top:404.73px;font-size:12.4px;line-height:14px;color:#e3e8f0;font-weight:bold;right:1848.00px;">40,000</div>
<div class="t" style="top:391.80px;font-size:12.4px;line-height:14px;color:#e3e8f0;font-weight:bold;right:1848.00px;">60,000</div>
<div class="t" style="top:378.87px;font-size:12.4px;line-height:14px;color:#e3e8f0;font-weight:bold;right:1848.00px;">80,000</div>
<div class="t" style="top:365.93px;font-size:12.4px;line-height:14px;color:#e3e8f0;font-weight:bold;right:1848.00px;">100,000</div>
<div class="t" style="top:353.00px;font-size:12.4px;line-height:14px;color:#e3e8f0;font-weight:bold;right:1848.00px;">120,000</div>
<div class="t" style="top:444.80px;font-size:12.6px;line-height:14px;color:#e3e8f0;font-weight:bold;left:65.40px;transform:translateX(-50%);">1</div>
<div class="t" style="top:444.80px;font-size:12.6px;line-height:14px;color:#e3e8f0;font-weight:bold;left:93.02px;transform:translateX(-50%);">3</div>
<div class="t" style="top:444.80px;font-size:12.6px;line-height:14px;color:#e3e8f0;font-weight:bold;left:120.63px;transform:translateX(-50%);">5</div>
<div class="t" style="top:444.80px;font-size:12.6px;line-height:14px;color:#e3e8f0;font-weight:bold;left:148.24px;transform:translateX(-50%);">7</div>
<div class="t" style="top:444.80px;font-size:12.6px;line-height:14px;color:#e3e8f0;font-weight:bold;left:175.85px;transform:translateX(-50%);">9</div>
<div class="t" style="top:444.80px;font-size:12.6px;line-height:14px;color:#e3e8f0;font-weight:bold;left:203.47px;transform:translateX(-50%);">11</div>
<div class="t" style="top:444.80px;font-size:12.6px;line-height:14px;color:#e3e8f0;font-weight:bold;left:231.08px;transform:translateX(-50%);">13</div>
<div class="t" style="top:444.80px;font-size:12.6px;line-height:14px;color:#e3e8f0;font-weight:bold;left:258.69px;transform:translateX(-50%);">15</div>
<div class="t" style="top:444.80px;font-size:12.6px;line-height:14px;color:#e3e8f0;font-weight:bold;left:286.31px;transform:translateX(-50%);">17</div>
<div class="t" style="top:444.80px;font-size:12.6px;line-height:14px;color:#e3e8f0;font-weight:bold;left:313.92px;transform:translateX(-50%);">19</div>
<div class="t" style="top:444.80px;font-size:12.6px;line-height:14px;color:#e3e8f0;font-weight:bold;left:341.53px;transform:translateX(-50%);">21</div>
<div class="t" style="top:444.80px;font-size:12.6px;line-height:14px;color:#e3e8f0;font-weight:bold;left:369.15px;transform:translateX(-50%);">23</div>
<div class="t" style="top:444.80px;font-size:12.6px;line-height:14px;color:#e3e8f0;font-weight:bold;left:396.76px;transform:translateX(-50%);">25</div>
<div class="t" style="top:444.80px;font-size:12.6px;line-height:14px;color:#e3e8f0;font-weight:bold;left:424.37px;transform:translateX(-50%);">27</div>
<div class="t" style="top:444.80px;font-size:12.6px;line-height:14px;color:#e3e8f0;font-weight:bold;left:451.98px;transform:translateX(-50%);">29</div>
<div class="t" style="top:444.80px;font-size:12.6px;line-height:14px;color:#e3e8f0;font-weight:bold;left:479.60px;transform:translateX(-50%);">31</div>
</section>
<section class="panel" id="monthly-stat">
<div class="t" style="top:301.35px;font-size:15px;line-height:20px;color:#fff;letter-spacing:-0.45px;left:561.00px;">月发/送电统计【2025】</div>
<div class="t" style="top:332.00px;font-size:12px;line-height:14px;color:#e3e8f0;font-weight:bold;left:572.00px;">kWh</div>
<div class="t" style="top:333.50px;font-size:12px;line-height:14px;color:#e3e8f0;left:737.50px;">月发统计</div>
<div class="t" style="top:333.50px;font-size:12px;line-height:14px;color:#e3e8f0;left:826.00px;">月送统计</div>
<div class="t" style="top:330.00px;font-size:14px;line-height:18px;color:#fff;font-weight:bold;left:963.75px;">更多数据</div>
<div class="t" style="top:430.60px;font-size:12.4px;line-height:14px;color:#e3e8f0;font-weight:bold;right:1322.00px;">0</div>
<div class="t" style="top:417.67px;font-size:12.4px;line-height:14px;color:#e3e8f0;font-weight:bold;right:1322.00px;">20,000</div>
<div class="t" style="top:404.73px;font-size:12.4px;line-height:14px;color:#e3e8f0;font-weight:bold;right:1322.00px;">40,000</div>
<div class="t" style="top:391.80px;font-size:12.4px;line-height:14px;color:#e3e8f0;font-weight:bold;right:1322.00px;">60,000</div>
<div class="t" style="top:378.87px;font-size:12.4px;line-height:14px;color:#e3e8f0;font-weight:bold;right:1322.00px;">80,000</div>
<div class="t" style="top:365.93px;font-size:12.4px;line-height:14px;color:#e3e8f0;font-weight:bold;right:1322.00px;">100,000</div>
<div class="t" style="top:353.00px;font-size:12.4px;line-height:14px;color:#e3e8f0;font-weight:bold;right:1322.00px;">120,000</div>
<div class="t" style="top:444.80px;font-size:12.6px;line-height:14px;color:#e3e8f0;font-weight:bold;left:602.38px;transform:translateX(-50%);">1</div>
<div class="t" style="top:444.80px;font-size:12.6px;line-height:14px;color:#e3e8f0;font-weight:bold;left:638.12px;transform:translateX(-50%);">2</div>
<div class="t" style="top:444.80px;font-size:12.6px;line-height:14px;color:#e3e8f0;font-weight:bold;left:673.88px;transform:translateX(-50%);">3</div>
<div class="t" style="top:444.80px;font-size:12.6px;line-height:14px;color:#e3e8f0;font-weight:bold;left:709.62px;transform:translateX(-50%);">4</div>
<div class="t" style="top:444.80px;font-size:12.6px;line-height:14px;color:#e3e8f0;font-weight:bold;left:745.38px;transform:translateX(-50%);">5</div>
<div class="t" style="top:444.80px;font-size:12.6px;line-height:14px;color:#e3e8f0;font-weight:bold;left:781.12px;transform:translateX(-50%);">6</div>
<div class="t" style="top:444.80px;font-size:12.6px;line-height:14px;color:#e3e8f0;font-weight:bold;left:816.88px;transform:translateX(-50%);">7</div>
<div class="t" style="top:444.80px;font-size:12.6px;line-height:14px;color:#e3e8f0;font-weight:bold;left:852.62px;transform:translateX(-50%);">8</div>
<div class="t" style="top:444.80px;font-size:12.6px;line-height:14px;color:#e3e8f0;font-weight:bold;left:888.38px;transform:translateX(-50%);">9</div>
<div class="t" style="top:444.80px;font-size:12.6px;line-height:14px;color:#e3e8f0;font-weight:bold;left:924.12px;transform:translateX(-50%);">10</div>
<div class="t" style="top:444.80px;font-size:12.6px;line-height:14px;color:#e3e8f0;font-weight:bold;left:959.88px;transform:translateX(-50%);">11</div>
<div class="t" style="top:444.80px;font-size:12.6px;line-height:14px;color:#e3e8f0;font-weight:bold;left:995.62px;transform:translateX(-50%);">12</div>
</section>
<section class="panel" id="completion">
<div class="t" style="top:301.35px;font-size:15px;line-height:20px;color:#fff;letter-spacing:-0.2px;left:1085.50px;">完成电量</div>
<div class="t" style="top:333.00px;font-size:13.3px;line-height:16px;color:#fff;left:1091.00px;transform:translateX(-50%);">日历进度</div>
<div class="t" style="top:349.00px;font-size:13.3px;line-height:16px;color:#2cc6f2;left:1091.00px;transform:translateX(-50%);">45%</div>
<div class="t" style="top:352.60px;font-size:12px;line-height:14px;color:#2cc6f2;left:1139.00px;">0天</div>
<div class="t" style="top:352.60px;font-size:12px;line-height:14px;color:#2cc6f2;right:462.00px;">100天</div>
<div class="t" style="top:379.00px;font-size:13.3px;line-height:16px;color:#fff;left:1091.00px;transform:translateX(-50%);">完成发电量</div>
<div class="t" style="top:395.00px;font-size:13.3px;line-height:16px;color:#2cc6f2;left:1091.00px;transform:translateX(-50%);">72%</div>
<div class="t" style="top:395.70px;font-size:12px;line-height:14px;color:#2cc6f2;left:1139.00px;">1721.679kWh</div>
<div class="t" style="top:395.70px;font-size:12px;line-height:14px;color:#2cc6f2;right:462.00px;">100kWh</div>
<div class="t" style="top:424.00px;font-size:13.3px;line-height:16px;color:#fff;left:1091.00px;transform:translateX(-50%);">计划完成度</div>
<div class="t" style="top:440.00px;font-size:13.3px;line-height:16px;color:#2cc6f2;left:1091.00px;transform:translateX(-50%);">83%</div>
<div class="t" style="top:441.70px;font-size:12px;line-height:14px;color:#2cc6f2;left:1139.00px;">0</div>
<div class="t" style="top:441.70px;font-size:12px;line-height:14px;color:#2cc6f2;right:462.00px;">100%</div>
</section>
<section id="pv-units">
<div class="t" style="top:504.00px;font-size:16px;line-height:22px;color:#2bc6f6;left:5.00px;">光伏组件最新更新时间：2024-10-29 10:07:57</div>
<article class="unit">
<div class="t" style="top:542.80px;font-size:16px;line-height:22px;color:#fff;font-weight:bold;left:26.00px;">A01号箱变</div>
<div class="t" style="top:568.70px;font-size:13.3px;line-height:18px;color:#fff;left:26.00px;">功率：180kW</div>
<div class="t" style="top:568.70px;font-size:13.3px;line-height:18px;color:#fff;left:146.00px;">电压：215V</div>
<div class="t" style="top:588.50px;font-size:13.3px;line-height:18px;color:#fff;left:26.00px;">电流：80A</div>
<div class="t" style="top:588.50px;font-size:13.3px;line-height:18px;color:#fff;left:146.00px;">温度：38℃</div>
<div class="t" style="top:652.74px;font-size:12px;line-height:12px;color:#fff;right:1859.00px;">0</div>
<div class="t" style="top:644.24px;font-size:12px;line-height:12px;color:#fff;right:1859.00px;">10</div>
<div class="t" style="top:635.74px;font-size:12px;line-height:12px;color:#fff;right:1859.00px;">20</div>
<div class="t" style="top:627.24px;font-size:12px;line-height:12px;color:#fff;right:1859.00px;">30</div>
<div class="t" style="top:618.74px;font-size:12px;line-height:12px;color:#fff;right:1859.00px;">40</div>
<div class="t" style="top:673.50px;font-size:12px;line-height:14px;color:#fff;left:48.00px;transform:translateX(-50%);">16</div>
<div class="t" style="top:673.50px;font-size:12px;line-height:14px;color:#fff;left:72.28px;transform:translateX(-50%);">16</div>
<div class="t" style="top:673.50px;font-size:12px;line-height:14px;color:#fff;left:96.55px;transform:translateX(-50%);">20</div>
<div class="t" style="top:673.50px;font-size:12px;line-height:14px;color:#fff;left:120.83px;transform:translateX(-50%);">04</div>
<div class="t" style="top:673.50px;font-size:12px;line-height:14px;color:#fff;left:145.10px;transform:translateX(-50%);">04</div>
<div class="t" style="top:673.50px;font-size:12px;line-height:14px;color:#fff;left:169.38px;transform:translateX(-50%);">08</div>
<div class="t" style="top:673.50px;font-size:12px;line-height:14px;color:#fff;left:193.66px;transform:translateX(-50%);">12</div>
<div class="t" style="top:673.50px;font-size:12px;line-height:14px;color:#fff;left:217.93px;transform:translateX(-50%);">12</div>
</article>
<article class="unit">
<div class="t" style="top:542.80px;font-size:16px;line-height:22px;color:#fff;font-weight:bold;left:278.00px;">A02号箱变</div>
<div class="t" style="top:568.70px;font-size:13.3px;line-height:18px;color:#fff;left:278.00px;">功率：185kW</div>
<div class="t" style="top:568.70px;font-size:13.3px;line-height:18px;color:#fff;left:398.00px;">电压：218V</div>
<div class="t" style="top:588.50px;font-size:13.3px;line-height:18px;color:#fff;left:278.00px;">电流：82A</div>
<div class="t" style="top:588.50px;font-size:13.3px;line-height:18px;color:#fff;left:398.00px;">温度：36℃</div>
<div class="t" style="top:652.74px;font-size:12px;line-height:12px;color:#fff;right:1607.00px;">0</div>
<div class="t" style="top:644.24px;font-size:12px;line-height:12px;color:#fff;right:1607.00px;">10</div>
<div class="t" style="top:635.74px;font-size:12px;line-height:12px;color:#fff;right:1607.00px;">20</div>
<div class="t" style="top:627.24px;font-size:12px;line-height:12px;color:#fff;right:1607.00px;">30</div>
<div class="t" style="top:618.74px;font-size:12px;line-height:12px;color:#fff;right:1607.00px;">40</div>
<div class="t" style="top:673.50px;font-size:12px;line-height:14px;color:#fff;left:300.00px;transform:translateX(-50%);">16</div>
<div class="t" style="top:673.50px;font-size:12px;line-height:14px;color:#fff;left:324.28px;transform:translateX(-50%);">16</div>
<div class="t" style="top:673.50px;font-size:12px;line-height:14px;color:#fff;left:348.55px;transform:translateX(-50%);">20</div>
<div class="t" style="top:673.50px;font-size:12px;line-height:14px;color:#fff;left:372.83px;transform:translateX(-50%);">04</div>
<div class="t" style="top:673.50px;font-size:12px;line-height:14px;color:#fff;left:397.10px;transform:translateX(-50%);">04</div>
<div class="t" style="top:673.50px;font-size:12px;line-height:14px;color:#fff;left:421.38px;transform:translateX(-50%);">08</div>
<div class="t" style="top:673.50px;font-size:12px;line-height:14px;color:#fff;left:445.66px;transform:translateX(-50%);">12</div>
<div class="t" style="top:673.50px;font-size:12px;line-height:14px;color:#fff;left:469.93px;transform:translateX(-50%);">12</div>
</article>
<article class="unit">
<div class="t" style="top:542.80px;font-size:16px;line-height:22px;color:#fff;font-weight:bold;left:530.00px;">A03号箱变</div>
<div class="t" style="top:568.70px;font-size:13.3px;line-height:18px;color:#fff;left:530.00px;">功率：184kW</div>
<div class="t" style="top:568.70px;font-size:13.3px;line-height:18px;color:#fff;left:650.00px;">电压：221V</div>
<div class="t" style="top:588.50px;font-size:13.3px;line-height:18px;color:#fff;left:530.00px;">电流：84A</div>
<div class="t" style="top:588.50px;font-size:13.3px;line-height:18px;color:#fff;left:650.00px;">温度：39℃</div>
<div class="t" style="top:654.73px;font-size:12px;line-height:12px;color:#fff;right:1355.00px;">0</div>
<div class="t" style="top:646.98px;font-size:12px;line-height:12px;color:#fff;right:1355.00px;">10</div>
<div class="t" style="top:639.23px;font-size:12px;line-height:12px;color:#fff;right:1355.00px;">20</div>
<div class="t" style="top:631.48px;font-size:12px;line-height:12px;color:#fff;right:1355.00px;">30</div>
<div class="t" style="top:623.73px;font-size:12px;line-height:12px;color:#fff;right:1355.00px;">40</div>
<div class="t" style="top:615.98px;font-size:12px;line-height:12px;color:#fff;right:1355.00px;">50</div>
<div class="t" style="top:673.50px;font-size:12px;line-height:14px;color:#fff;left:552.00px;transform:translateX(-50%);">16</div>
<div class="t" style="top:673.50px;font-size:12px;line-height:14px;color:#fff;left:576.28px;transform:translateX(-50%);">16</div>
<div class="t" style="top:673.50px;font-size:12px;line-height:14px;color:#fff;left:600.55px;transform:translateX(-50%);">20</div>
<div class="t" style="top:673.50px;font-size:12px;line-height:14px;color:#fff;left:624.83px;transform:translateX(-50%);">04</div>
<div class="t" style="top:673.50px;font-size:12px;line-height:14px;color:#fff;left:649.10px;transform:translateX(-50%);">04</div>
<div class="t" style="top:673.50px;font-size:12px;line-height:14px;color:#fff;left:673.38px;transform:translateX(-50%);">08</div>
<div class="t" style="top:673.50px;font-size:12px;line-height:14px;color:#fff;left:697.66px;transform:translateX(-50%);">12</div>
<div class="t" style="top:673.50px;font-size:12px;line-height:14px;color:#fff;left:721.93px;transform:translateX(-50%);">12</div>
</article>
<article class="unit">
<div class="t" style="top:715.80px;font-size:16px;line-height:22px;color:#fff;font-weight:bold;left:26.00px;">A04号箱变</div>
<div class="t" style="top:741.70px;font-size:13.3px;line-height:18px;color:#fff;left:26.00px;">功率：178kW</div>
<div class="t" style="top:741.70px;font-size:13.3px;line-height:18px;color:#fff;left:146.00px;">电压：219V</div>
<div class="t" style="top:761.50px;font-size:13.3px;line-height:18px;color:#fff;left:26.00px;">电流：82A</div>
<div class="t" style="top:761.50px;font-size:13.3px;line-height:18px;color:#fff;left:146.00px;">温度：39℃</div>
<div class="t" style="top:827.73px;font-size:12px;line-height:12px;color:#fff;right:1859.00px;">0</div>
<div class="t" style="top:819.98px;font-size:12px;line-height:12px;color:#fff;right:1859.00px;">10</div>
<div class="t" style="top:812.23px;font-size:12px;line-height:12px;color:#fff;right:1859.00px;">20</div>
<div class="t" style="top:804.48px;font-size:12px;line-height:12px;color:#fff;right:1859.00px;">30</div>
<div class="t" style="top:796.73px;font-size:12px;line-height:12px;color:#fff;right:1859.00px;">40</div>
<div class="t" style="top:788.98px;font-size:12px;line-height:12px;color:#fff;right:1859.00px;">50</div>
<div class="t" style="top:846.50px;font-size:12px;line-height:14px;color:#fff;left:48.00px;transform:translateX(-50%);">16</div>
<div class="t" style="top:846.50px;font-size:12px;line-height:14px;color:#fff;left:72.28px;transform:translateX(-50%);">16</div>
<div class="t" style="top:846.50px;font-size:12px;line-height:14px;color:#fff;left:96.55px;transform:translateX(-50%);">20</div>
<div class="t" style="top:846.50px;font-size:12px;line-height:14px;color:#fff;left:120.83px;transform:translateX(-50%);">04</div>
<div class="t" style="top:846.50px;font-size:12px;line-height:14px;color:#fff;left:145.10px;transform:translateX(-50%);">04</div>
<div class="t" style="top:846.50px;font-size:12px;line-height:14px;color:#fff;left:169.38px;transform:translateX(-50%);">08</div>
<div class="t" style="top:846.50px;font-size:12px;line-height:14px;color:#fff;left:193.66px;transform:translateX(-50%);">12</div>
<div class="t" style="top:846.50px;font-size:12px;line-height:14px;color:#fff;left:217.93px;transform:translateX(-50%);">12</div>
</article>
<article class="unit">
<div class="t" style="top:715.80px;font-size:16px;line-height:22px;color:#fff;font-weight:bold;left:278.00px;">A05号箱变</div>
<div class="t" style="top:741.70px;font-size:13.3px;line-height:18px;color:#fff;left:278.00px;">功率：182kW</div>
<div class="t" style="top:741.70px;font-size:13.3px;line-height:18px;color:#fff;left:398.00px;">电压：220V</div>
<div class="t" style="top:761.50px;font-size:13.3px;line-height:18px;color:#fff;left:278.00px;">电流：82A</div>
<div class="t" style="top:761.50px;font-size:13.3px;line-height:18px;color:#fff;left:398.00px;">温度：39℃</div>
<div class="t" style="top:825.74px;font-size:12px;line-height:12px;color:#fff;right:1607.00px;">0</div>
<div class="t" style="top:817.24px;font-size:12px;line-height:12px;color:#fff;right:1607.00px;">10</div>
<div class="t" style="top:808.74px;font-size:12px;line-height:12px;color:#fff;right:1607.00px;">20</div>
<div class="t" style="top:800.24px;font-size:12px;line-height:12px;color:#fff;right:1607.00px;">30</div>
<div class="t" style="top:791.74px;font-size:12px;line-height:12px;color:#fff;right:1607.00px;">40</div>
<div class="t" style="top:846.50px;font-size:12px;line-height:14px;color:#fff;left:300.00px;transform:translateX(-50%);">16</div>
<div class="t" style="top:846.50px;font-size:12px;line-height:14px;color:#fff;left:324.28px;transform:translateX(-50%);">16</div>
<div class="t" style="top:846.50px;font-size:12px;line-height:14px;color:#fff;left:348.55px;transform:translateX(-50%);">20</div>
<div class="t" style="top:846.50px;font-size:12px;line-height:14px;color:#fff;left:372.83px;transform:translateX(-50%);">04</div>
<div class="t" style="top:846.50px;font-size:12px;line-height:14px;color:#fff;left:397.10px;transform:translateX(-50%);">04</div>
<div class="t" style="top:846.50px;font-size:12px;line-height:14px;color:#fff;left:421.38px;transform:translateX(-50%);">08</div>
<div class="t" style="top:846.50px;font-size:12px;line-height:14px;color:#fff;left:445.66px;transform:translateX(-50%);">12</div>
<div class="t" style="top:846.50px;font-size:12px;line-height:14px;color:#fff;left:469.93px;transform:translateX(-50%);">12</div>
</article>
<article class="unit">
<div class="t" style="top:715.80px;font-size:16px;line-height:22px;color:#fff;font-weight:bold;left:530.00px;">A06号箱变</div>
<div class="t" style="top:741.70px;font-size:13.3px;line-height:18px;color:#fff;left:530.00px;">功率：178kW</div>
<div class="t" style="top:741.70px;font-size:13.3px;line-height:18px;color:#fff;left:650.00px;">电压：222V</div>
<div class="t" style="top:761.50px;font-size:13.3px;line-height:18px;color:#fff;left:530.00px;">电流：83A</div>
<div class="t" style="top:761.50px;font-size:13.3px;line-height:18px;color:#fff;left:650.00px;">温度：40℃</div>
<div class="t" style="top:825.74px;font-size:12px;line-height:12px;color:#fff;right:1355.00px;">0</div>
<div class="t" style="top:817.24px;font-size:12px;line-height:12px;color:#fff;right:1355.00px;">10</div>
<div class="t" style="top:808.74px;font-size:12px;line-height:12px;color:#fff;right:1355.00px;">20</div>
<div class="t" style="top:800.24px;font-size:12px;line-height:12px;color:#fff;right:1355.00px;">30</div>
<div class="t" style="top:791.74px;font-size:12px;line-height:12px;color:#fff;right:1355.00px;">40</div>
<div class="t" style="top:846.50px;font-size:12px;line-height:14px;color:#fff;left:552.00px;transform:translateX(-50%);">16</div>
<div class="t" style="top:846.50px;font-size:12px;line-height:14px;color:#fff;left:576.28px;transform:translateX(-50%);">16</div>
<div class="t" style="top:846.50px;font-size:12px;line-height:14px;color:#fff;left:600.55px;transform:translateX(-50%);">20</div>
<div class="t" style="top:846.50px;font-size:12px;line-height:14px;color:#fff;left:624.83px;transform:translateX(-50%);">04</div>
<div class="t" style="top:846.50px;font-size:12px;line-height:14px;color:#fff;left:649.10px;transform:translateX(-50%);">04</div>
<div class="t" style="top:846.50px;font-size:12px;line-height:14px;color:#fff;left:673.38px;transform:translateX(-50%);">08</div>
<div class="t" style="top:846.50px;font-size:12px;line-height:14px;color:#fff;left:697.66px;transform:translateX(-50%);">12</div>
<div class="t" style="top:846.50px;font-size:12px;line-height:14px;color:#fff;left:721.93px;transform:translateX(-50%);">12</div>
</article>
</section>
<section class="panel" id="substation">
<div class="t" style="top:495.55px;font-size:15px;line-height:20px;color:#fff;letter-spacing:-0.45px;left:817.00px;">升压站监测【10分钟内有效】</div>
<div class="t" style="top:527.70px;font-size:13.3px;line-height:18px;color:#fff;left:789.00px;">主变高压侧:</div>
<div class="t" style="top:527.70px;font-size:13.3px;line-height:18px;color:#fff;left:922.50px;">Ua<span style="color:#2bc4f5;margin-left:3.5px;font-size:12.3px">0</span></div>
<div class="t" style="top:527.70px;font-size:13.3px;line-height:18px;color:#fff;left:1003.00px;">Ub<span style="color:#2bc4f5;margin-left:3.5px;font-size:12.3px">0</span></div>
<div class="t" style="top:527.70px;font-size:13.3px;line-height:18px;color:#fff;left:1083.00px;">Uc<span style="color:#2bc4f5;margin-left:3.5px;font-size:12.3px">0</span></div>
<div class="t" style="top:527.70px;font-size:13.3px;line-height:18px;color:#fff;left:1163.00px;">Uab<span style="color:#2bc4f5;margin-left:3.5px;font-size:12.3px">0</span></div>
<div class="t" style="top:527.70px;font-size:13.3px;line-height:18px;color:#fff;left:1243.50px;">Ubc<span style="color:#2bc4f5;margin-left:3.5px;font-size:12.3px">0</span></div>
<div class="t" style="top:527.70px;font-size:13.3px;line-height:18px;color:#fff;left:1324.00px;">Uca<span style="color:#2bc4f5;margin-left:3.5px;font-size:12.3px">0</span></div>
<div class="t" style="top:545.50px;font-size:13.3px;line-height:18px;color:#fff;left:922.50px;">P<span style="color:#2bc4f5;margin-left:3.5px;font-size:12.3px">34.678</span></div>
<div class="t" style="top:545.50px;font-size:13.3px;line-height:18px;color:#fff;left:1003.00px;">Q<span style="color:#2bc4f5;margin-left:3.5px;font-size:12.3px">13.662</span></div>
<div class="t" style="top:545.50px;font-size:13.3px;line-height:18px;color:#fff;left:1083.00px;">cos<span style="color:#2bc4f5;margin-left:3.5px;font-size:12.3px">0.931</span></div>
<div class="t" style="top:545.50px;font-size:13.3px;line-height:18px;color:#fff;left:1163.00px;">F<span style="color:#2bc4f5;margin-left:3.5px;font-size:12.3px">0</span></div>
<div class="t" style="top:563.50px;font-size:13.3px;line-height:18px;color:#fff;left:922.50px;">Ia<span style="color:#2bc4f5;margin-left:3.5px;font-size:12.3px">565.518</span></div>
<div class="t" style="top:563.50px;font-size:13.3px;line-height:18px;color:#fff;left:1003.00px;">Ib<span style="color:#2bc4f5;margin-left:3.5px;font-size:12.3px">565.34</span></div>
<div class="t" style="top:563.50px;font-size:13.3px;line-height:18px;color:#fff;left:1083.00px;">Ic<span style="color:#2bc4f5;margin-left:3.5px;font-size:12.3px">566.33</span></div>
<div class="t" style="top:590.70px;font-size:13.3px;line-height:18px;color:#fff;left:789.00px;">主变低压侧:</div>
<div class="t" style="top:590.70px;font-size:13.3px;line-height:18px;color:#fff;left:922.50px;">Ua<span style="color:#2bc4f5;margin-left:3.5px;font-size:12.3px">0</span></div>
<div class="t" style="top:590.70px;font-size:13.3px;line-height:18px;color:#fff;left:1003.00px;">Ub<span style="color:#2bc4f5;margin-left:7px;font-size:12.3px">0</span></div>
<div class="t" style="top:590.70px;font-size:13.3px;line-height:18px;color:#fff;left:1083.00px;">Uc<span style="color:#2bc4f5;margin-left:3.5px;font-size:12.3px">0</span></div>
<div class="t" style="top:590.70px;font-size:13.3px;line-height:18px;color:#fff;left:1163.00px;">Uab<span style="color:#2bc4f5;margin-left:3.5px;font-size:12.3px">0</span></div>
<div class="t" style="top:590.70px;font-size:13.3px;line-height:18px;color:#fff;left:1243.50px;">Ubc<span style="color:#2bc4f5;margin-left:3.5px;font-size:12.3px">0</span></div>
<div class="t" style="top:590.70px;font-size:13.3px;line-height:18px;color:#fff;left:1324.00px;">Uca<span style="color:#2bc4f5;margin-left:3.5px;font-size:12.3px">0</span></div>
<div class="t" style="top:608.50px;font-size:13.3px;line-height:18px;color:#fff;left:922.50px;">P<span style="color:#2bc4f5;margin-left:3.5px;font-size:12.3px">-34.41</span></div>
<div class="t" style="top:608.50px;font-size:13.3px;line-height:18px;color:#fff;left:1003.00px;">Q<span style="color:#2bc4f5;margin-left:3.5px;font-size:12.3px">-11.704</span></div>
<div class="t" style="top:608.50px;font-size:13.3px;line-height:18px;color:#fff;left:1083.00px;">cos<span style="color:#2bc4f5;margin-left:3.5px;font-size:12.3px">-0.948</span></div>
<div class="t" style="top:608.50px;font-size:13.3px;line-height:18px;color:#fff;left:1163.00px;">F<span style="color:#2bc4f5;margin-left:3.5px;font-size:12.3px">0</span></div>
<div class="t" style="top:636.50px;font-size:13.3px;line-height:18px;color:#fff;left:789.00px;">主变主体:</div>
<div class="t" style="top:636.50px;font-size:13.3px;line-height:18px;color:#fff;left:922.50px;">油测1<span style="color:#2bc4f5;margin-left:7px;font-size:12.3px">27.894</span></div>
<div class="t" style="top:636.50px;font-size:13.3px;line-height:18px;color:#fff;left:1029.50px;">油测2<span style="color:#2bc4f5;margin-left:7px;font-size:12.3px">26.783</span></div>
<div class="t" style="top:636.50px;font-size:13.3px;line-height:18px;color:#fff;left:1136.00px;">绕温<span style="color:#2bc4f5;margin-left:7px;font-size:12.3px">30.481</span></div>
<div class="t" style="top:636.50px;font-size:13.3px;line-height:18px;color:#fff;left:1243.50px;">档位<span style="color:#2bc4f5;margin-left:7px;font-size:12.3px">9</span></div>
<div class="t" style="top:663.50px;font-size:13.3px;line-height:18px;color:#fff;left:789.00px;">微水压力:</div>
<div class="t" style="top:663.50px;font-size:13.3px;line-height:18px;color:#fff;left:922.50px;">1#<span style="color:#2bc4f5;margin-left:7px;font-size:12.3px">51</span><span style="color:#f5d21f;margin-left:4px;font-size:12.3px">MPa</span></div>
<div class="t" style="top:663.50px;font-size:13.3px;line-height:18px;color:#fff;left:1083.00px;">2#<span style="color:#2bc4f5;margin-left:7px;font-size:12.3px">23</span><span style="color:#f5d21f;margin-left:4px;font-size:12.3px">MPa</span></div>
<div class="t" style="top:663.50px;font-size:13.3px;line-height:18px;color:#fff;left:1243.50px;">3#<span style="color:#2bc4f5;margin-left:7px;font-size:12.3px">81</span><span style="color:#f5d21f;margin-left:4px;font-size:12.3px">MPa</span></div>
</section>
<section class="panel" id="alarms">
<div class="t" style="top:705.10px;font-size:15px;line-height:20px;color:#fff;letter-spacing:-0.25px;left:816.50px;">告警记录</div>
<div class="t" style="top:742.50px;font-size:14px;line-height:20px;color:#fff;left:906.00px;transform:translateX(-50%);">内容</div>
<div class="t" style="top:742.50px;font-size:14px;line-height:20px;color:#fff;left:1109.50px;transform:translateX(-50%);">发生时间</div>
<div class="t" style="top:742.50px;font-size:14px;line-height:20px;color:#fff;left:1272.00px;transform:translateX(-50%);">结束时间</div>
<div class="t" style="top:742.50px;font-size:14px;line-height:20px;color:#fff;left:1394.00px;transform:translateX(-50%);">级别</div>
<div class="t" style="top:774.50px;font-size:12px;line-height:16px;color:#fff;left:906.00px;transform:translateX(-50%);">温度报警</div>
<div class="t" style="top:774.50px;font-size:12px;line-height:16px;color:#fff;left:1109.50px;transform:translateX(-50%);">2025-03-21 09:34</div>
<div class="t" style="top:774.50px;font-size:12px;line-height:16px;color:#fff;left:1272.00px;transform:translateX(-50%);">2025-03-21 10:17</div>
<div class="t" style="top:774.50px;font-size:12px;line-height:16px;color:#fff;left:1394.00px;transform:translateX(-50%);">一般告警</div>
<div class="t" style="top:804.50px;font-size:12px;line-height:16px;color:#fff;left:906.00px;transform:translateX(-50%);">温度报警</div>
<div class="t" style="top:804.50px;font-size:12px;line-height:16px;color:#fff;left:1109.50px;transform:translateX(-50%);">2025-03-20 11:20</div>
<div class="t" style="top:804.50px;font-size:12px;line-height:16px;color:#fff;left:1272.00px;transform:translateX(-50%);">2025-03-20 11:47</div>
<div class="t" style="top:804.50px;font-size:12px;line-height:16px;color:#f5a21f;left:1394.00px;transform:translateX(-50%);">重要告警</div>
<div class="t" style="top:834.50px;font-size:12px;line-height:16px;color:#fff;left:906.00px;transform:translateX(-50%);">温度报警</div>
<div class="t" style="top:834.50px;font-size:12px;line-height:16px;color:#fff;left:1109.50px;transform:translateX(-50%);">2025-03-19 09:34</div>
<div class="t" style="top:834.50px;font-size:12px;line-height:16px;color:#fff;left:1272.00px;transform:translateX(-50%);">2025-03-19 10:17</div>
<div class="t" style="top:834.50px;font-size:12px;line-height:16px;color:#f5a21f;left:1394.00px;transform:translateX(-50%);">重要告警</div>
<div class="t" style="top:864.50px;font-size:12px;line-height:16px;color:#fff;left:906.00px;transform:translateX(-50%);">温度报警</div>
<div class="t" style="top:864.50px;font-size:12px;line-height:16px;color:#fff;left:1109.50px;transform:translateX(-50%);">2025-03-18 11:20</div>
<div class="t" style="top:864.50px;font-size:12px;line-height:16px;color:#fff;left:1272.00px;transform:translateX(-50%);">2025-03-18 11:47</div>
<div class="t" style="top:864.50px;font-size:12px;line-height:16px;color:#f31b2b;left:1394.00px;transform:translateX(-50%);">严重告警</div>
</section>
</main>
<aside>
<div class="t" style="top:76.50px;font-size:20px;line-height:26px;color:#1de2f2;left:1672.00px;transform:translateX(-50%);">安全运行天数：596 天</div>
<section class="stat">
<div class="t" style="top:130.00px;font-size:20px;line-height:26px;color:#1de2f2;left:1672.00px;transform:translateX(-50%);">-- 电量统计 --</div>
<div class="t" style="top:174.50px;font-size:16px;line-height:20px;color:#e4eaf4;left:1574.75px;transform:translateX(-50%);">日发电总量</div>
<div class="t" style="top:194.80px;font-size:20px;line-height:24px;color:#fff;font-weight:bold;left:1574.75px;transform:translateX(-50%);"><span style="font-size:20px;color:#31c4f6">85</span><span style="font-size:14px;color:#f6d516;margin-left:11px">kWh</span></div>
<div class="t" style="top:174.50px;font-size:16px;line-height:20px;color:#e4eaf4;left:1761.50px;transform:translateX(-50%);">月发电总量</div>
<div class="t" style="top:194.80px;font-size:20px;line-height:24px;color:#fff;font-weight:bold;left:1761.50px;transform:translateX(-50%);"><span style="font-size:20px;color:#31c4f6">1289</span><span style="font-size:14px;color:#f6d516;margin-left:11px">kWh</span></div>
<div class="t" style="top:232.30px;font-size:16px;line-height:20px;color:#e4eaf4;left:1574.75px;transform:translateX(-50%);">年发电总量</div>
<div class="t" style="top:252.60px;font-size:20px;line-height:24px;color:#fff;font-weight:bold;left:1574.75px;transform:translateX(-50%);"><span style="font-size:20px;color:#31c4f6">1721.679</span><span style="font-size:14px;color:#f6d516;margin-left:11px">kWh</span></div>
<div class="t" style="top:232.30px;font-size:16px;line-height:20px;color:#e4eaf4;left:1761.50px;transform:translateX(-50%);">总发电量</div>
<div class="t" style="top:252.60px;font-size:20px;line-height:24px;color:#fff;font-weight:bold;left:1761.50px;transform:translateX(-50%);"><span style="font-size:20px;color:#31c4f6">1721.679</span><span style="font-size:14px;color:#f6d516;margin-left:11px">kWh</span></div>
<div class="t" style="top:290.10px;font-size:16px;line-height:20px;color:#e4eaf4;left:1574.75px;transform:translateX(-50%);">日送电总量</div>
<div class="t" style="top:310.40px;font-size:20px;line-height:24px;color:#fff;font-weight:bold;left:1574.75px;transform:translateX(-50%);"><span style="font-size:20px;color:#31c4f6">39</span><span style="font-size:14px;color:#f6d516;margin-left:11px">kWh</span></div>
<div class="t" style="top:290.10px;font-size:16px;line-height:20px;color:#e4eaf4;left:1761.50px;transform:translateX(-50%);">月送电总量</div>
<div class="t" style="top:310.40px;font-size:20px;line-height:24px;color:#fff;font-weight:bold;left:1761.50px;transform:translateX(-50%);"><span style="font-size:20px;color:#31c4f6">1207</span><span style="font-size:14px;color:#f6d516;margin-left:11px">kWh</span></div>
<div class="t" style="top:347.90px;font-size:16px;line-height:20px;color:#e4eaf4;left:1574.75px;transform:translateX(-50%);">年送电总量</div>
<div class="t" style="top:368.20px;font-size:20px;line-height:24px;color:#fff;font-weight:bold;left:1574.75px;transform:translateX(-50%);"><span style="font-size:20px;color:#31c4f6">2313.282</span><span style="font-size:14px;color:#f6d516;margin-left:11px">kWh</span></div>
<div class="t" style="top:347.90px;font-size:16px;line-height:20px;color:#e4eaf4;left:1761.50px;transform:translateX(-50%);">总送电量</div>
<div class="t" style="top:368.20px;font-size:20px;line-height:24px;color:#fff;font-weight:bold;left:1761.50px;transform:translateX(-50%);"><span style="font-size:20px;color:#31c4f6">2313.282</span><span style="font-size:14px;color:#f6d516;margin-left:11px">kWh</span></div>
</section>
<section class="stat">
<div class="t" style="top:434.50px;font-size:20px;line-height:26px;color:#1de2f2;left:1672.00px;transform:translateX(-50%);">-- 场站功率统计 --</div>
<div class="t" style="top:478.75px;font-size:16px;line-height:20px;color:#e4eaf4;left:1574.75px;transform:translateX(-50%);">日最大功率</div>
<div class="t" style="top:499.05px;font-size:20px;line-height:24px;color:#fff;font-weight:bold;left:1574.75px;transform:translateX(-50%);"><span style="font-size:20px;color:#31c4f6">0.840</span><span style="font-size:14px;color:#f6d516;margin-left:11px">kW</span></div>
<div class="t" style="top:478.75px;font-size:16px;line-height:20px;color:#e4eaf4;left:1761.50px;transform:translateX(-50%);">日最小功率</div>
<div class="t" style="top:499.05px;font-size:20px;line-height:24px;color:#fff;font-weight:bold;left:1761.50px;transform:translateX(-50%);"><span style="font-size:20px;color:#31c4f6">-0.392</span><span style="font-size:14px;color:#f6d516;margin-left:11px">kW</span></div>
<div class="t" style="top:536.55px;font-size:16px;line-height:20px;color:#e4eaf4;left:1574.75px;transform:translateX(-50%);">月最大功率</div>
<div class="t" style="top:556.85px;font-size:20px;line-height:24px;color:#fff;font-weight:bold;left:1574.75px;transform:translateX(-50%);"><span style="font-size:20px;color:#31c4f6">0.540</span><span style="font-size:14px;color:#f6d516;margin-left:11px">kW</span></div>
<div class="t" style="top:536.55px;font-size:16px;line-height:20px;color:#e4eaf4;left:1761.50px;transform:translateX(-50%);">月最小功率</div>
<div class="t" style="top:556.85px;font-size:20px;line-height:24px;color:#fff;font-weight:bold;left:1761.50px;transform:translateX(-50%);"><span style="font-size:20px;color:#31c4f6">-1.291</span><span style="font-size:14px;color:#f6d516;margin-left:11px">kW</span></div>
<div class="t" style="top:594.35px;font-size:16px;line-height:20px;color:#e4eaf4;left:1574.75px;transform:translateX(-50%);">年最大功率</div>
<div class="t" style="top:614.65px;font-size:20px;line-height:24px;color:#fff;font-weight:bold;left:1574.75px;transform:translateX(-50%);"><span style="font-size:20px;color:#31c4f6">0.540</span><span style="font-size:14px;color:#f6d516;margin-left:11px">kW</span></div>
<div class="t" style="top:594.35px;font-size:16px;line-height:20px;color:#e4eaf4;left:1761.50px;transform:translateX(-50%);">年最小功率</div>
<div class="t" style="top:614.65px;font-size:20px;line-height:24px;color:#fff;font-weight:bold;left:1761.50px;transform:translateX(-50%);"><span style="font-size:20px;color:#31c4f6">-1.291</span><span style="font-size:14px;color:#f6d516;margin-left:11px">kW</span></div>
</section>
<section class="stat">
<div class="t" style="top:674.50px;font-size:20px;line-height:26px;color:#1de2f2;left:1672.00px;transform:translateX(-50%);">-- 光照幅度统计 --</div>
<div class="t" style="top:718.90px;font-size:16px;line-height:20px;color:#e4eaf4;left:1574.75px;transform:translateX(-50%);">日平均光照</div>
<div class="t" style="top:739.20px;font-size:20px;line-height:24px;color:#fff;font-weight:bold;left:1574.75px;transform:translateX(-50%);"><span style="font-size:20px;color:#31c4f6">2.2</span><span style="font-size:14px;color:#f6d516;margin-left:11px">W/m²</span></div>
<div class="t" style="top:718.90px;font-size:16px;line-height:20px;color:#e4eaf4;left:1761.50px;transform:translateX(-50%);">日最大光照</div>
<div class="t" style="top:739.20px;font-size:20px;line-height:24px;color:#fff;font-weight:bold;left:1761.50px;transform:translateX(-50%);"><span style="font-size:20px;color:#31c4f6">5.0</span><span style="font-size:14px;color:#f6d516;margin-left:11px">W/m²</span></div>
<div class="t" style="top:776.70px;font-size:16px;line-height:20px;color:#e4eaf4;left:1574.75px;transform:translateX(-50%);">月平均光照</div>
<div class="t" style="top:797.00px;font-size:20px;line-height:24px;color:#fff;font-weight:bold;left:1574.75px;transform:translateX(-50%);"><span style="font-size:20px;color:#31c4f6">1.9</span><span style="font-size:14px;color:#f6d516;margin-left:11px">W/m²</span></div>
<div class="t" style="top:776.70px;font-size:16px;line-height:20px;color:#e4eaf4;left:1761.50px;transform:translateX(-50%);">月最大光照</div>
<div class="t" style="top:797.00px;font-size:20px;line-height:24px;color:#fff;font-weight:bold;left:1761.50px;transform:translateX(-50%);"><span style="font-size:20px;color:#31c4f6">6.4</span><span style="font-size:14px;color:#f6d516;margin-left:11px">W/m²</span></div>
<div class="t" style="top:834.50px;font-size:16px;line-height:20px;color:#e4eaf4;left:1574.75px;transform:translateX(-50%);">年平均光照</div>
<div class="t" style="top:854.80px;font-size:20px;line-height:24px;color:#fff;font-weight:bold;left:1574.75px;transform:translateX(-50%);"><span style="font-size:20px;color:#31c4f6">6.8</span><span style="font-size:14px;color:#f6d516;margin-left:11px">W/m²</span></div>
<div class="t" style="top:834.50px;font-size:16px;line-height:20px;color:#e4eaf4;left:1761.50px;transform:translateX(-50%);">年最大光照</div>
<div class="t" style="top:854.80px;font-size:20px;line-height:24px;color:#fff;font-weight:bold;left:1761.50px;transform:translateX(-50%);"><span style="font-size:20px;color:#31c4f6">18.7</span><span style="font-size:14px;color:#f6d516;margin-left:11px">W/m²</span></div>
</section>
</aside>
</body></html>
